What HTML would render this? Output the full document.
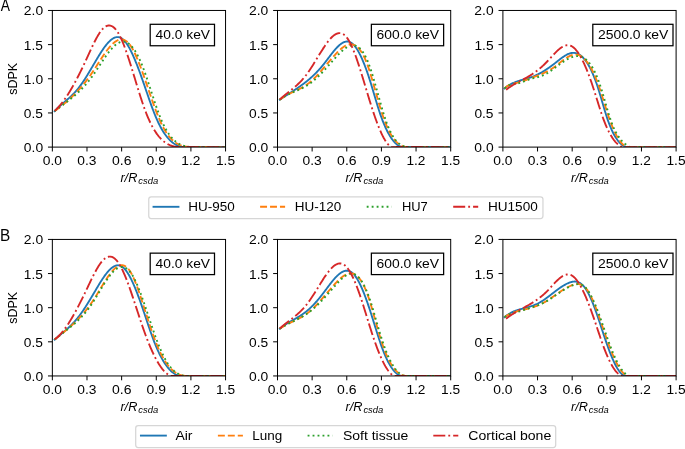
<!DOCTYPE html>
<html><head><meta charset="utf-8"><title>sDPK figure</title><style>
html,body{margin:0;padding:0;background:#fff;overflow:hidden}
svg{display:block;will-change:transform}
</style></head><body>
<svg width="685" height="449" viewBox="0 0 685 449" font-family='"Liberation Sans", sans-serif' fill="#000">
<rect width="100%" height="100%" fill="#fff"/>
<defs>
<clipPath id="cp00"><rect x="52.35" y="10.46" width="173.20" height="136.64"/></clipPath>
<clipPath id="cp01"><rect x="277.50" y="10.46" width="173.20" height="136.64"/></clipPath>
<clipPath id="cp02"><rect x="502.90" y="10.46" width="173.20" height="136.64"/></clipPath>
<clipPath id="cp10"><rect x="52.35" y="239.43" width="173.20" height="136.52"/></clipPath>
<clipPath id="cp11"><rect x="277.50" y="239.43" width="173.20" height="136.52"/></clipPath>
<clipPath id="cp12"><rect x="502.90" y="239.43" width="173.20" height="136.52"/></clipPath>
</defs>
<g clip-path="url(#cp00)" fill="none" stroke-width="1.875" stroke-linejoin="round">
<path d="M54.66,111.09 L55.21,110.51 L55.76,109.94 L56.31,109.38 L56.86,108.83 L57.41,108.29 L57.96,107.76 L58.51,107.24 L59.07,106.73 L59.62,106.23 L60.17,105.73 L60.72,105.24 L61.27,104.76 L61.82,104.28 L62.37,103.80 L62.92,103.33 L63.47,102.85 L64.02,102.39 L64.57,101.92 L65.12,101.45 L65.67,100.98 L66.23,100.51 L66.78,100.04 L67.33,99.56 L67.88,99.08 L68.43,98.60 L68.98,98.11 L69.53,97.62 L70.08,97.12 L70.63,96.61 L71.18,96.10 L71.73,95.57 L72.28,95.04 L72.83,94.50 L73.39,93.94 L73.94,93.38 L74.49,92.80 L75.04,92.21 L75.59,91.60 L76.14,90.98 L76.69,90.35 L77.24,89.70 L77.79,89.03 L78.34,88.34 L78.89,87.64 L79.44,86.92 L79.99,86.18 L80.55,85.43 L81.10,84.66 L81.65,83.88 L82.20,83.08 L82.75,82.28 L83.30,81.45 L83.85,80.62 L84.40,79.77 L84.95,78.92 L85.50,78.05 L86.05,77.18 L86.60,76.29 L87.15,75.40 L87.71,74.50 L88.26,73.60 L88.81,72.68 L89.36,71.77 L89.91,70.84 L90.46,69.92 L91.01,68.98 L91.56,68.05 L92.11,67.12 L92.66,66.18 L93.21,65.24 L93.76,64.30 L94.31,63.36 L94.86,62.42 L95.42,61.49 L95.97,60.56 L96.52,59.63 L97.07,58.70 L97.62,57.78 L98.17,56.87 L98.72,55.96 L99.27,55.07 L99.82,54.18 L100.37,53.30 L100.92,52.44 L101.47,51.59 L102.02,50.75 L102.58,49.93 L103.13,49.12 L103.68,48.33 L104.23,47.56 L104.78,46.80 L105.33,46.07 L105.88,45.36 L106.43,44.67 L106.98,44.00 L107.53,43.36 L108.08,42.74 L108.63,42.15 L109.18,41.59 L109.74,41.05 L110.29,40.54 L110.84,40.07 L111.39,39.62 L111.94,39.21 L112.49,38.83 L113.04,38.48 L113.59,38.17 L114.14,37.90 L114.69,37.66 L115.24,37.47 L115.79,37.31 L116.34,37.19 L116.90,37.11 L117.45,37.08 L118.00,37.09 L118.55,37.15 L119.10,37.25 L119.65,37.39 L120.20,37.59 L120.75,37.83 L121.30,38.13 L121.85,38.47 L122.40,38.87 L122.95,39.32 L123.50,39.82 L124.06,40.37 L124.61,40.97 L125.16,41.62 L125.71,42.31 L126.26,43.05 L126.81,43.84 L127.36,44.67 L127.91,45.54 L128.46,46.45 L129.01,47.40 L129.56,48.40 L130.11,49.42 L130.66,50.49 L131.22,51.59 L131.77,52.72 L132.32,53.89 L132.87,55.09 L133.42,56.32 L133.97,57.58 L134.52,58.87 L135.07,60.18 L135.62,61.52 L136.17,62.88 L136.72,64.27 L137.27,65.68 L137.82,67.11 L138.38,68.57 L138.93,70.04 L139.48,71.52 L140.03,73.03 L140.58,74.55 L141.13,76.08 L141.68,77.63 L142.23,79.19 L142.78,80.76 L143.33,82.34 L143.88,83.92 L144.43,85.52 L144.98,87.12 L145.53,88.72 L146.09,90.33 L146.64,91.93 L147.19,93.54 L147.74,95.14 L148.29,96.73 L148.84,98.32 L149.39,99.90 L149.94,101.47 L150.49,103.02 L151.04,104.56 L151.59,106.08 L152.14,107.59 L152.69,109.07 L153.25,110.53 L153.80,111.97 L154.35,113.37 L154.90,114.75 L155.45,116.10 L156.00,117.42 L156.55,118.70 L157.10,119.95 L157.65,121.17 L158.20,122.35 L158.75,123.49 L159.30,124.61 L159.85,125.69 L160.41,126.74 L160.96,127.75 L161.51,128.74 L162.06,129.69 L162.61,130.62 L163.16,131.51 L163.71,132.38 L164.26,133.21 L164.81,134.02 L165.36,134.79 L165.91,135.54 L166.46,136.26 L167.01,136.96 L167.57,137.62 L168.12,138.26 L168.67,138.88 L169.22,139.46 L169.77,140.03 L170.32,140.56 L170.87,141.07 L171.42,141.56 L171.97,142.03 L172.52,142.47 L173.07,142.88 L173.62,143.28 L174.17,143.65 L174.73,144.00 L175.28,144.33 L175.83,144.64 L176.38,144.92 L176.93,145.19 L177.48,145.44 L178.03,145.66 L178.58,145.87 L179.13,146.06 L179.68,146.23 L180.23,146.38 L180.78,146.52 L181.33,146.63 L181.89,146.74 L182.44,146.82 L182.99,146.89 L183.54,146.94 L184.09,146.98 L184.64,147.00 L185.19,147.01 L185.74,147.00 L186.29,146.99 L225.55,147.10" stroke="#1f77b4"  stroke-linecap="square"/>
<path d="M54.66,111.07 L55.23,110.66 L55.80,110.25 L56.37,109.84 L56.94,109.42 L57.51,109.00 L58.08,108.57 L58.65,108.15 L59.22,107.71 L59.79,107.28 L60.36,106.83 L60.93,106.39 L61.50,105.94 L62.07,105.49 L62.64,105.03 L63.21,104.57 L63.78,104.10 L64.35,103.63 L64.92,103.15 L65.49,102.67 L66.06,102.18 L66.63,101.69 L67.20,101.19 L67.77,100.69 L68.34,100.18 L68.91,99.66 L69.48,99.14 L70.05,98.62 L70.62,98.09 L71.19,97.55 L71.76,97.00 L72.33,96.45 L72.90,95.90 L73.47,95.33 L74.04,94.76 L74.61,94.19 L75.18,93.61 L75.75,93.02 L76.32,92.42 L76.89,91.81 L77.46,91.20 L78.03,90.59 L78.60,89.96 L79.17,89.33 L79.74,88.69 L80.31,88.04 L80.88,87.38 L81.45,86.72 L82.02,86.04 L82.59,85.36 L83.16,84.68 L83.73,83.98 L84.30,83.27 L84.87,82.56 L85.44,81.84 L86.01,81.11 L86.58,80.37 L87.15,79.62 L87.72,78.86 L88.29,78.09 L88.86,77.32 L89.43,76.53 L90.00,75.74 L90.57,74.93 L91.14,74.12 L91.71,73.29 L92.29,72.46 L92.86,71.61 L93.43,70.76 L94.00,69.90 L94.57,69.03 L95.14,68.16 L95.71,67.28 L96.28,66.39 L96.85,65.51 L97.42,64.62 L97.99,63.73 L98.56,62.84 L99.13,61.96 L99.70,61.07 L100.27,60.19 L100.84,59.31 L101.41,58.44 L101.98,57.57 L102.55,56.71 L103.12,55.87 L103.69,55.03 L104.26,54.20 L104.83,53.38 L105.40,52.57 L105.97,51.78 L106.54,51.01 L107.11,50.25 L107.68,49.50 L108.25,48.78 L108.82,48.07 L109.39,47.38 L109.96,46.72 L110.53,46.08 L111.10,45.46 L111.67,44.86 L112.24,44.29 L112.81,43.75 L113.38,43.23 L113.95,42.74 L114.52,42.28 L115.09,41.85 L115.66,41.46 L116.23,41.09 L116.80,40.76 L117.37,40.47 L117.94,40.21 L118.51,39.98 L119.08,39.80 L119.65,39.65 L120.22,39.54 L120.79,39.48 L121.36,39.45 L121.93,39.47 L122.50,39.54 L123.07,39.64 L123.64,39.80 L124.21,40.00 L124.78,40.25 L125.35,40.55 L125.92,40.90 L126.49,41.30 L127.06,41.75 L127.63,42.26 L128.20,42.82 L128.77,43.44 L129.34,44.11 L129.91,44.85 L130.48,45.63 L131.05,46.48 L131.62,47.37 L132.19,48.32 L132.76,49.32 L133.33,50.37 L133.90,51.46 L134.47,52.60 L135.04,53.78 L135.61,55.00 L136.18,56.26 L136.75,57.56 L137.32,58.89 L137.89,60.26 L138.46,61.66 L139.03,63.09 L139.60,64.55 L140.17,66.03 L140.74,67.54 L141.31,69.08 L141.88,70.63 L142.45,72.21 L143.02,73.80 L143.59,75.41 L144.16,77.03 L144.73,78.66 L145.30,80.31 L145.87,81.97 L146.44,83.63 L147.01,85.29 L147.58,86.97 L148.15,88.64 L148.72,90.31 L149.29,91.98 L149.86,93.65 L150.43,95.31 L151.00,96.96 L151.57,98.61 L152.14,100.25 L152.71,101.87 L153.28,103.48 L153.85,105.07 L154.42,106.64 L154.99,108.20 L155.56,109.73 L156.13,111.24 L156.70,112.73 L157.27,114.19 L157.84,115.62 L158.42,117.02 L158.99,118.39 L159.56,119.72 L160.13,121.02 L160.70,122.28 L161.27,123.50 L161.84,124.68 L162.41,125.82 L162.98,126.93 L163.55,127.99 L164.12,129.01 L164.69,130.00 L165.26,130.95 L165.83,131.86 L166.40,132.74 L166.97,133.59 L167.54,134.40 L168.11,135.17 L168.68,135.92 L169.25,136.63 L169.82,137.31 L170.39,137.96 L170.96,138.58 L171.53,139.17 L172.10,139.74 L172.67,140.27 L173.24,140.78 L173.81,141.26 L174.38,141.72 L174.95,142.15 L175.52,142.56 L176.09,142.95 L176.66,143.31 L177.23,143.65 L177.80,143.96 L178.37,144.26 L178.94,144.54 L179.51,144.80 L180.08,145.04 L180.65,145.26 L181.22,145.47 L181.79,145.65 L182.36,145.83 L182.93,145.98 L183.50,146.13 L184.07,146.26 L184.64,146.37 L185.21,146.48 L185.78,146.57 L186.35,146.65 L186.92,146.73 L187.49,146.79 L188.06,146.84 L188.63,146.89 L189.20,146.93 L189.77,146.96 L190.34,146.98 L190.91,147.00 L225.55,147.10" stroke="#ff7f0e" stroke-dasharray="6.938 3.000" stroke-linecap="butt"/>
<path d="M54.66,111.08 L55.23,110.63 L55.81,110.18 L56.38,109.73 L56.96,109.28 L57.53,108.84 L58.11,108.40 L58.68,107.96 L59.26,107.53 L59.83,107.09 L60.41,106.66 L60.98,106.22 L61.56,105.79 L62.13,105.36 L62.71,104.93 L63.28,104.50 L63.86,104.07 L64.43,103.64 L65.01,103.20 L65.58,102.77 L66.16,102.33 L66.73,101.90 L67.31,101.46 L67.88,101.01 L68.46,100.57 L69.03,100.12 L69.61,99.67 L70.18,99.22 L70.76,98.76 L71.33,98.30 L71.91,97.83 L72.48,97.36 L73.06,96.89 L73.63,96.41 L74.21,95.92 L74.78,95.43 L75.36,94.93 L75.93,94.43 L76.51,93.92 L77.08,93.40 L77.66,92.88 L78.23,92.35 L78.81,91.81 L79.38,91.26 L79.96,90.71 L80.53,90.15 L81.11,89.57 L81.68,88.99 L82.26,88.40 L82.83,87.80 L83.41,87.19 L83.98,86.57 L84.56,85.94 L85.13,85.30 L85.70,84.65 L86.28,83.99 L86.85,83.32 L87.43,82.63 L88.00,81.93 L88.58,81.22 L89.15,80.50 L89.73,79.76 L90.30,79.01 L90.88,78.25 L91.45,77.48 L92.03,76.69 L92.60,75.88 L93.18,75.07 L93.75,74.24 L94.33,73.41 L94.90,72.56 L95.48,71.71 L96.05,70.85 L96.63,69.98 L97.20,69.11 L97.78,68.24 L98.35,67.36 L98.93,66.48 L99.50,65.61 L100.08,64.73 L100.65,63.85 L101.23,62.97 L101.80,62.10 L102.38,61.23 L102.95,60.37 L103.53,59.51 L104.10,58.67 L104.68,57.83 L105.25,56.99 L105.83,56.17 L106.40,55.37 L106.98,54.57 L107.55,53.79 L108.13,53.02 L108.70,52.27 L109.28,51.53 L109.85,50.81 L110.43,50.12 L111.00,49.44 L111.58,48.78 L112.15,48.14 L112.73,47.53 L113.30,46.94 L113.88,46.37 L114.45,45.83 L115.03,45.32 L115.60,44.84 L116.18,44.38 L116.75,43.96 L117.33,43.56 L117.90,43.20 L118.48,42.87 L119.05,42.57 L119.63,42.31 L120.20,42.09 L120.77,41.90 L121.35,41.75 L121.92,41.65 L122.50,41.58 L123.07,41.55 L123.65,41.56 L124.22,41.62 L124.80,41.72 L125.37,41.87 L125.95,42.06 L126.52,42.29 L127.10,42.57 L127.67,42.89 L128.25,43.26 L128.82,43.67 L129.40,44.13 L129.97,44.62 L130.55,45.17 L131.12,45.75 L131.70,46.38 L132.27,47.05 L132.85,47.77 L133.42,48.53 L134.00,49.33 L134.57,50.18 L135.15,51.07 L135.72,52.00 L136.30,52.97 L136.87,53.99 L137.45,55.05 L138.02,56.16 L138.60,57.31 L139.17,58.50 L139.75,59.73 L140.32,61.01 L140.90,62.32 L141.47,63.68 L142.05,65.09 L142.62,66.53 L143.20,68.02 L143.77,69.54 L144.35,71.10 L144.92,72.69 L145.50,74.31 L146.07,75.95 L146.65,77.62 L147.22,79.31 L147.80,81.02 L148.37,82.75 L148.95,84.48 L149.52,86.23 L150.10,87.99 L150.67,89.76 L151.25,91.52 L151.82,93.29 L152.40,95.05 L152.97,96.81 L153.55,98.56 L154.12,100.29 L154.70,102.02 L155.27,103.72 L155.84,105.41 L156.42,107.07 L156.99,108.71 L157.57,110.33 L158.14,111.91 L158.72,113.45 L159.29,114.96 L159.87,116.44 L160.44,117.87 L161.02,119.25 L161.59,120.59 L162.17,121.89 L162.74,123.14 L163.32,124.36 L163.89,125.52 L164.47,126.65 L165.04,127.74 L165.62,128.79 L166.19,129.80 L166.77,130.77 L167.34,131.70 L167.92,132.60 L168.49,133.46 L169.07,134.29 L169.64,135.08 L170.22,135.84 L170.79,136.56 L171.37,137.26 L171.94,137.92 L172.52,138.55 L173.09,139.15 L173.67,139.72 L174.24,140.27 L174.82,140.78 L175.39,141.27 L175.97,141.73 L176.54,142.17 L177.12,142.58 L177.69,142.97 L178.27,143.34 L178.84,143.68 L179.42,144.00 L179.99,144.30 L180.57,144.58 L181.14,144.84 L181.72,145.08 L182.29,145.30 L182.87,145.50 L183.44,145.69 L184.02,145.87 L184.59,146.02 L185.17,146.17 L185.74,146.30 L186.32,146.41 L186.89,146.52 L187.47,146.61 L188.04,146.69 L188.62,146.77 L189.19,146.83 L189.76,146.89 L190.34,146.93 L190.91,146.97 L191.49,147.01 L192.06,147.04 L225.55,147.10" stroke="#2ca02c" stroke-dasharray="1.875 3.094" stroke-linecap="butt"/>
<path d="M54.66,110.88 L55.18,110.42 L55.69,109.94 L56.21,109.45 L56.73,108.93 L57.24,108.41 L57.76,107.87 L58.28,107.31 L58.79,106.74 L59.31,106.16 L59.83,105.56 L60.35,104.95 L60.86,104.32 L61.38,103.68 L61.90,103.02 L62.41,102.35 L62.93,101.67 L63.45,100.97 L63.96,100.27 L64.48,99.54 L65.00,98.81 L65.52,98.06 L66.03,97.30 L66.55,96.53 L67.07,95.75 L67.58,94.95 L68.10,94.14 L68.62,93.32 L69.13,92.49 L69.65,91.65 L70.17,90.80 L70.68,89.93 L71.20,89.06 L71.72,88.17 L72.24,87.28 L72.75,86.37 L73.27,85.45 L73.79,84.53 L74.30,83.59 L74.82,82.64 L75.34,81.69 L75.85,80.72 L76.37,79.75 L76.89,78.76 L77.40,77.77 L77.92,76.77 L78.44,75.76 L78.96,74.74 L79.47,73.72 L79.99,72.68 L80.51,71.64 L81.02,70.59 L81.54,69.53 L82.06,68.47 L82.57,67.40 L83.09,66.32 L83.61,65.23 L84.13,64.14 L84.64,63.04 L85.16,61.93 L85.68,60.82 L86.19,59.70 L86.71,58.58 L87.23,57.45 L87.74,56.32 L88.26,55.18 L88.78,54.05 L89.29,52.92 L89.81,51.79 L90.33,50.66 L90.85,49.54 L91.36,48.43 L91.88,47.32 L92.40,46.23 L92.91,45.15 L93.43,44.08 L93.95,43.03 L94.46,41.99 L94.98,40.97 L95.50,39.97 L96.01,38.99 L96.53,38.04 L97.05,37.10 L97.57,36.20 L98.08,35.32 L98.60,34.47 L99.12,33.64 L99.63,32.86 L100.15,32.10 L100.67,31.38 L101.18,30.69 L101.70,30.04 L102.22,29.43 L102.74,28.87 L103.25,28.34 L103.77,27.86 L104.29,27.42 L104.80,27.02 L105.32,26.67 L105.84,26.37 L106.35,26.11 L106.87,25.89 L107.39,25.72 L107.90,25.60 L108.42,25.52 L108.94,25.48 L109.46,25.50 L109.97,25.56 L110.49,25.66 L111.01,25.82 L111.52,26.02 L112.04,26.26 L112.56,26.56 L113.07,26.90 L113.59,27.29 L114.11,27.73 L114.62,28.22 L115.14,28.76 L115.66,29.35 L116.18,29.98 L116.69,30.67 L117.21,31.40 L117.73,32.18 L118.24,33.02 L118.76,33.90 L119.28,34.84 L119.79,35.82 L120.31,36.85 L120.83,37.93 L121.34,39.05 L121.86,40.21 L122.38,41.42 L122.90,42.66 L123.41,43.94 L123.93,45.25 L124.45,46.60 L124.96,47.99 L125.48,49.40 L126.00,50.84 L126.51,52.31 L127.03,53.81 L127.55,55.33 L128.07,56.88 L128.58,58.45 L129.10,60.03 L129.62,61.64 L130.13,63.26 L130.65,64.89 L131.17,66.54 L131.68,68.21 L132.20,69.88 L132.72,71.56 L133.23,73.25 L133.75,74.94 L134.27,76.64 L134.79,78.33 L135.30,80.03 L135.82,81.73 L136.34,83.43 L136.85,85.12 L137.37,86.81 L137.89,88.48 L138.40,90.15 L138.92,91.81 L139.44,93.46 L139.95,95.09 L140.47,96.71 L140.99,98.31 L141.51,99.89 L142.02,101.45 L142.54,102.99 L143.06,104.51 L143.57,106.00 L144.09,107.47 L144.61,108.90 L145.12,110.31 L145.64,111.68 L146.16,113.03 L146.68,114.34 L147.19,115.61 L147.71,116.85 L148.23,118.06 L148.74,119.24 L149.26,120.39 L149.78,121.50 L150.29,122.59 L150.81,123.64 L151.33,124.67 L151.84,125.67 L152.36,126.63 L152.88,127.57 L153.40,128.48 L153.91,129.36 L154.43,130.22 L154.95,131.04 L155.46,131.84 L155.98,132.62 L156.50,133.37 L157.01,134.09 L157.53,134.79 L158.05,135.46 L158.56,136.11 L159.08,136.74 L159.60,137.34 L160.12,137.92 L160.63,138.48 L161.15,139.02 L161.67,139.53 L162.18,140.03 L162.70,140.50 L163.22,140.95 L163.73,141.38 L164.25,141.79 L164.77,142.19 L165.29,142.56 L165.80,142.92 L166.32,143.26 L166.84,143.58 L167.35,143.88 L167.87,144.17 L168.39,144.44 L168.90,144.69 L169.42,144.93 L169.94,145.16 L170.45,145.37 L170.97,145.56 L171.49,145.74 L172.01,145.91 L172.52,146.07 L173.04,146.21 L173.56,146.34 L174.07,146.46 L174.59,146.57 L175.11,146.67 L175.62,146.75 L176.14,146.83 L176.66,146.90 L177.17,146.95 L177.69,147.00 L178.21,147.04 L225.55,147.10" stroke="#d62728" stroke-dasharray="12.000 3.000 1.875 3.000" stroke-linecap="butt"/>
</g>
<rect x="52.35" y="10.46" width="173.20" height="136.64" fill="none" stroke="#000" stroke-width="1.000" stroke-linecap="square"/>
<path d="M52.35,147.10 v4.375 M86.99,147.10 v4.375 M121.63,147.10 v4.375 M156.27,147.10 v4.375 M190.91,147.10 v4.375 M225.55,147.10 v4.375 M52.35,147.10 h-4.375 M52.35,112.94 h-4.375 M52.35,78.78 h-4.375 M52.35,44.62 h-4.375 M52.35,10.46 h-4.375" stroke="#000" stroke-width="1.000"/>
<rect x="150.20" y="24.30" width="64.30" height="21.45" fill="#fff" stroke="#000" stroke-width="1.250"/>
<g clip-path="url(#cp01)" fill="none" stroke-width="1.875" stroke-linejoin="round">
<path d="M279.81,99.67 L280.33,99.32 L280.85,98.97 L281.37,98.62 L281.90,98.27 L282.42,97.93 L282.94,97.58 L283.46,97.24 L283.98,96.90 L284.51,96.56 L285.03,96.22 L285.55,95.88 L286.07,95.54 L286.59,95.21 L287.11,94.87 L287.64,94.54 L288.16,94.20 L288.68,93.87 L289.20,93.53 L289.72,93.20 L290.24,92.86 L290.77,92.52 L291.29,92.19 L291.81,91.85 L292.33,91.51 L292.85,91.17 L293.38,90.83 L293.90,90.49 L294.42,90.15 L294.94,89.80 L295.46,89.46 L295.98,89.11 L296.51,88.76 L297.03,88.40 L297.55,88.05 L298.07,87.69 L298.59,87.33 L299.11,86.97 L299.64,86.60 L300.16,86.24 L300.68,85.86 L301.20,85.49 L301.72,85.11 L302.25,84.73 L302.77,84.34 L303.29,83.95 L303.81,83.56 L304.33,83.16 L304.85,82.76 L305.38,82.36 L305.90,81.95 L306.42,81.53 L306.94,81.11 L307.46,80.69 L307.99,80.26 L308.51,79.82 L309.03,79.38 L309.55,78.93 L310.07,78.48 L310.59,78.02 L311.12,77.56 L311.64,77.09 L312.16,76.61 L312.68,76.13 L313.20,75.64 L313.72,75.15 L314.25,74.65 L314.77,74.14 L315.29,73.62 L315.81,73.10 L316.33,72.57 L316.86,72.03 L317.38,71.48 L317.90,70.93 L318.42,70.37 L318.94,69.80 L319.46,69.22 L319.99,68.63 L320.51,68.04 L321.03,67.44 L321.55,66.82 L322.07,66.20 L322.59,65.57 L323.12,64.93 L323.64,64.29 L324.16,63.63 L324.68,62.96 L325.20,62.29 L325.73,61.61 L326.25,60.93 L326.77,60.24 L327.29,59.55 L327.81,58.85 L328.33,58.16 L328.86,57.47 L329.38,56.77 L329.90,56.08 L330.42,55.40 L330.94,54.71 L331.46,54.04 L331.99,53.37 L332.51,52.70 L333.03,52.05 L333.55,51.40 L334.07,50.77 L334.60,50.15 L335.12,49.54 L335.64,48.94 L336.16,48.36 L336.68,47.80 L337.20,47.25 L337.73,46.72 L338.25,46.21 L338.77,45.72 L339.29,45.26 L339.81,44.81 L340.34,44.39 L340.86,43.99 L341.38,43.62 L341.90,43.28 L342.42,42.96 L342.94,42.67 L343.47,42.41 L343.99,42.18 L344.51,41.99 L345.03,41.83 L345.55,41.70 L346.07,41.60 L346.60,41.55 L347.12,41.53 L347.64,41.54 L348.16,41.60 L348.68,41.70 L349.21,41.84 L349.73,42.02 L350.25,42.25 L350.77,42.52 L351.29,42.83 L351.81,43.20 L352.34,43.61 L352.86,44.06 L353.38,44.56 L353.90,45.10 L354.42,45.69 L354.94,46.32 L355.47,46.99 L355.99,47.71 L356.51,48.46 L357.03,49.26 L357.55,50.10 L358.08,50.97 L358.60,51.89 L359.12,52.85 L359.64,53.84 L360.16,54.87 L360.68,55.94 L361.21,57.04 L361.73,58.18 L362.25,59.36 L362.77,60.57 L363.29,61.81 L363.81,63.09 L364.34,64.40 L364.86,65.74 L365.38,67.12 L365.90,68.53 L366.42,69.96 L366.95,71.43 L367.47,72.93 L367.99,74.46 L368.51,76.01 L369.03,77.60 L369.55,79.21 L370.08,80.85 L370.60,82.51 L371.12,84.20 L371.64,85.92 L372.16,87.65 L372.69,89.40 L373.21,91.17 L373.73,92.94 L374.25,94.72 L374.77,96.50 L375.29,98.27 L375.82,100.03 L376.34,101.78 L376.86,103.52 L377.38,105.23 L377.90,106.92 L378.42,108.58 L378.95,110.21 L379.47,111.79 L379.99,113.34 L380.51,114.86 L381.03,116.34 L381.56,117.78 L382.08,119.18 L382.60,120.55 L383.12,121.88 L383.64,123.17 L384.16,124.43 L384.69,125.65 L385.21,126.84 L385.73,127.99 L386.25,129.11 L386.77,130.19 L387.29,131.23 L387.82,132.25 L388.34,133.22 L388.86,134.16 L389.38,135.07 L389.90,135.94 L390.43,136.78 L390.95,137.59 L391.47,138.36 L391.99,139.10 L392.51,139.80 L393.03,140.47 L393.56,141.11 L394.08,141.71 L394.60,142.28 L395.12,142.82 L395.64,143.33 L396.16,143.80 L396.69,144.24 L397.21,144.65 L397.73,145.03 L398.25,145.37 L398.77,145.69 L399.30,145.97 L399.82,146.22 L400.34,146.44 L400.86,146.63 L401.38,146.79 L401.90,146.91 L402.43,147.01 L402.95,147.08 L403.47,147.10 L403.99,147.10 L404.51,147.09 L450.70,147.10" stroke="#1f77b4"  stroke-linecap="square"/>
<path d="M279.81,99.69 L280.34,99.28 L280.87,98.89 L281.40,98.51 L281.94,98.13 L282.47,97.77 L283.00,97.42 L283.53,97.08 L284.06,96.74 L284.59,96.42 L285.12,96.10 L285.66,95.79 L286.19,95.48 L286.72,95.19 L287.25,94.90 L287.78,94.61 L288.31,94.33 L288.84,94.06 L289.38,93.79 L289.91,93.52 L290.44,93.26 L290.97,93.00 L291.50,92.74 L292.03,92.49 L292.56,92.24 L293.10,91.99 L293.63,91.74 L294.16,91.49 L294.69,91.24 L295.22,90.99 L295.75,90.74 L296.28,90.49 L296.82,90.23 L297.35,89.98 L297.88,89.72 L298.41,89.46 L298.94,89.20 L299.47,88.93 L300.00,88.66 L300.54,88.38 L301.07,88.10 L301.60,87.81 L302.13,87.52 L302.66,87.22 L303.19,86.91 L303.72,86.60 L304.26,86.28 L304.79,85.95 L305.32,85.61 L305.85,85.26 L306.38,84.90 L306.91,84.53 L307.44,84.16 L307.98,83.77 L308.51,83.37 L309.04,82.96 L309.57,82.53 L310.10,82.10 L310.63,81.65 L311.16,81.19 L311.70,80.72 L312.23,80.24 L312.76,79.75 L313.29,79.25 L313.82,78.74 L314.35,78.22 L314.88,77.69 L315.42,77.15 L315.95,76.60 L316.48,76.05 L317.01,75.49 L317.54,74.92 L318.07,74.35 L318.60,73.77 L319.14,73.18 L319.67,72.59 L320.20,71.99 L320.73,71.39 L321.26,70.78 L321.79,70.17 L322.32,69.56 L322.86,68.94 L323.39,68.32 L323.92,67.70 L324.45,67.08 L324.98,66.45 L325.51,65.82 L326.04,65.20 L326.58,64.57 L327.11,63.94 L327.64,63.31 L328.17,62.68 L328.70,62.06 L329.23,61.43 L329.76,60.81 L330.30,60.19 L330.83,59.57 L331.36,58.95 L331.89,58.34 L332.42,57.73 L332.95,57.13 L333.48,56.53 L334.02,55.93 L334.55,55.34 L335.08,54.76 L335.61,54.18 L336.14,53.61 L336.67,53.05 L337.20,52.49 L337.74,51.95 L338.27,51.42 L338.80,50.90 L339.33,50.39 L339.86,49.90 L340.39,49.42 L340.92,48.96 L341.46,48.51 L341.99,48.09 L342.52,47.67 L343.05,47.28 L343.58,46.91 L344.11,46.56 L344.64,46.23 L345.18,45.92 L345.71,45.64 L346.24,45.38 L346.77,45.15 L347.30,44.94 L347.83,44.76 L348.36,44.61 L348.90,44.48 L349.43,44.39 L349.96,44.32 L350.49,44.29 L351.02,44.29 L351.55,44.32 L352.08,44.38 L352.62,44.49 L353.15,44.62 L353.68,44.80 L354.21,45.01 L354.74,45.25 L355.27,45.54 L355.80,45.87 L356.34,46.24 L356.87,46.65 L357.40,47.11 L357.93,47.60 L358.46,48.15 L358.99,48.73 L359.52,49.37 L360.06,50.05 L360.59,50.78 L361.12,51.55 L361.65,52.38 L362.18,53.26 L362.71,54.19 L363.24,55.17 L363.78,56.21 L364.31,57.30 L364.84,58.44 L365.37,59.64 L365.90,60.90 L366.43,62.21 L366.96,63.59 L367.50,65.02 L368.03,66.51 L368.56,68.06 L369.09,69.66 L369.62,71.31 L370.15,73.00 L370.68,74.72 L371.22,76.48 L371.75,78.28 L372.28,80.09 L372.81,81.93 L373.34,83.78 L373.87,85.64 L374.41,87.52 L374.94,89.39 L375.47,91.26 L376.00,93.14 L376.53,95.00 L377.06,96.86 L377.59,98.71 L378.13,100.55 L378.66,102.37 L379.19,104.17 L379.72,105.95 L380.25,107.70 L380.78,109.43 L381.31,111.13 L381.85,112.80 L382.38,114.43 L382.91,116.02 L383.44,117.58 L383.97,119.09 L384.50,120.55 L385.03,121.97 L385.57,123.33 L386.10,124.65 L386.63,125.93 L387.16,127.15 L387.69,128.33 L388.22,129.46 L388.75,130.55 L389.29,131.60 L389.82,132.61 L390.35,133.57 L390.88,134.49 L391.41,135.37 L391.94,136.21 L392.47,137.02 L393.01,137.78 L393.54,138.51 L394.07,139.21 L394.60,139.86 L395.13,140.49 L395.66,141.07 L396.19,141.63 L396.73,142.16 L397.26,142.65 L397.79,143.11 L398.32,143.54 L398.85,143.95 L399.38,144.32 L399.91,144.67 L400.45,144.99 L400.98,145.29 L401.51,145.56 L402.04,145.81 L402.57,146.03 L403.10,146.24 L403.63,146.42 L404.17,146.58 L404.70,146.72 L405.23,146.84 L405.76,146.94 L406.29,147.02 L406.82,147.09 L450.70,147.10" stroke="#ff7f0e" stroke-dasharray="6.938 3.000" stroke-linecap="butt"/>
<path d="M279.81,99.69 L280.35,99.29 L280.88,98.90 L281.42,98.53 L281.95,98.17 L282.49,97.81 L283.03,97.47 L283.56,97.13 L284.10,96.80 L284.64,96.49 L285.17,96.18 L285.71,95.87 L286.24,95.58 L286.78,95.29 L287.32,95.00 L287.85,94.73 L288.39,94.45 L288.93,94.19 L289.46,93.93 L290.00,93.67 L290.53,93.42 L291.07,93.17 L291.61,92.92 L292.14,92.68 L292.68,92.44 L293.22,92.20 L293.75,91.96 L294.29,91.72 L294.82,91.49 L295.36,91.25 L295.90,91.02 L296.43,90.78 L296.97,90.54 L297.51,90.31 L298.04,90.07 L298.58,89.83 L299.11,89.58 L299.65,89.34 L300.19,89.09 L300.72,88.84 L301.26,88.58 L301.80,88.32 L302.33,88.06 L302.87,87.79 L303.41,87.51 L303.94,87.23 L304.48,86.94 L305.01,86.65 L305.55,86.34 L306.09,86.03 L306.62,85.72 L307.16,85.39 L307.70,85.06 L308.23,84.72 L308.77,84.36 L309.30,84.00 L309.84,83.63 L310.38,83.25 L310.91,82.85 L311.45,82.45 L311.99,82.03 L312.52,81.61 L313.06,81.17 L313.59,80.73 L314.13,80.27 L314.67,79.80 L315.20,79.33 L315.74,78.85 L316.28,78.36 L316.81,77.86 L317.35,77.35 L317.88,76.84 L318.42,76.32 L318.96,75.79 L319.49,75.25 L320.03,74.71 L320.57,74.16 L321.10,73.61 L321.64,73.05 L322.17,72.49 L322.71,71.92 L323.25,71.35 L323.78,70.77 L324.32,70.19 L324.86,69.61 L325.39,69.02 L325.93,68.43 L326.46,67.84 L327.00,67.24 L327.54,66.64 L328.07,66.04 L328.61,65.44 L329.15,64.84 L329.68,64.24 L330.22,63.63 L330.75,63.03 L331.29,62.43 L331.83,61.82 L332.36,61.22 L332.90,60.62 L333.44,60.02 L333.97,59.42 L334.51,58.82 L335.04,58.23 L335.58,57.64 L336.12,57.05 L336.65,56.46 L337.19,55.88 L337.73,55.30 L338.26,54.73 L338.80,54.17 L339.34,53.62 L339.87,53.08 L340.41,52.54 L340.94,52.02 L341.48,51.51 L342.02,51.02 L342.55,50.53 L343.09,50.07 L343.63,49.62 L344.16,49.18 L344.70,48.77 L345.23,48.37 L345.77,47.99 L346.31,47.63 L346.84,47.30 L347.38,46.99 L347.92,46.70 L348.45,46.44 L348.99,46.20 L349.52,45.99 L350.06,45.80 L350.60,45.65 L351.13,45.52 L351.67,45.43 L352.21,45.36 L352.74,45.33 L353.28,45.33 L353.81,45.37 L354.35,45.44 L354.89,45.54 L355.42,45.69 L355.96,45.87 L356.50,46.09 L357.03,46.35 L357.57,46.65 L358.10,46.99 L358.64,47.38 L359.18,47.81 L359.71,48.28 L360.25,48.80 L360.79,49.37 L361.32,49.98 L361.86,50.65 L362.39,51.36 L362.93,52.12 L363.47,52.93 L364.00,53.80 L364.54,54.72 L365.08,55.69 L365.61,56.72 L366.15,57.80 L366.68,58.94 L367.22,60.14 L367.76,61.40 L368.29,62.72 L368.83,64.09 L369.37,65.53 L369.90,67.03 L370.44,68.58 L370.97,70.19 L371.51,71.83 L372.05,73.53 L372.58,75.26 L373.12,77.03 L373.66,78.83 L374.19,80.66 L374.73,82.52 L375.26,84.40 L375.80,86.29 L376.34,88.20 L376.87,90.13 L377.41,92.05 L377.95,93.99 L378.48,95.92 L379.02,97.85 L379.56,99.77 L380.09,101.69 L380.63,103.58 L381.16,105.46 L381.70,107.32 L382.24,109.16 L382.77,110.96 L383.31,112.73 L383.85,114.47 L384.38,116.17 L384.92,117.82 L385.45,119.43 L385.99,120.98 L386.53,122.49 L387.06,123.93 L387.60,125.32 L388.14,126.66 L388.67,127.94 L389.21,129.17 L389.74,130.34 L390.28,131.47 L390.82,132.54 L391.35,133.57 L391.89,134.55 L392.43,135.48 L392.96,136.37 L393.50,137.21 L394.03,138.01 L394.57,138.77 L395.11,139.48 L395.64,140.16 L396.18,140.79 L396.72,141.39 L397.25,141.95 L397.79,142.48 L398.32,142.97 L398.86,143.43 L399.40,143.85 L399.93,144.25 L400.47,144.61 L401.01,144.94 L401.54,145.25 L402.08,145.53 L402.61,145.78 L403.15,146.01 L403.69,146.21 L404.22,146.39 L404.76,146.55 L405.30,146.69 L405.83,146.81 L406.37,146.91 L406.90,146.99 L407.44,147.05 L407.98,147.10 L450.70,147.10" stroke="#2ca02c" stroke-dasharray="1.875 3.094" stroke-linecap="butt"/>
<path d="M279.81,99.47 L280.30,99.02 L280.79,98.58 L281.27,98.15 L281.76,97.72 L282.25,97.29 L282.74,96.88 L283.23,96.46 L283.71,96.05 L284.20,95.65 L284.69,95.25 L285.18,94.85 L285.66,94.45 L286.15,94.05 L286.64,93.66 L287.13,93.27 L287.62,92.88 L288.10,92.49 L288.59,92.10 L289.08,91.71 L289.57,91.32 L290.06,90.93 L290.54,90.54 L291.03,90.15 L291.52,89.75 L292.01,89.35 L292.50,88.95 L292.98,88.55 L293.47,88.14 L293.96,87.73 L294.45,87.31 L294.94,86.89 L295.42,86.46 L295.91,86.03 L296.40,85.59 L296.89,85.15 L297.38,84.70 L297.86,84.24 L298.35,83.77 L298.84,83.30 L299.33,82.82 L299.82,82.33 L300.30,81.83 L300.79,81.32 L301.28,80.80 L301.77,80.27 L302.26,79.74 L302.74,79.19 L303.23,78.62 L303.72,78.05 L304.21,77.47 L304.70,76.87 L305.18,76.26 L305.67,75.63 L306.16,75.00 L306.65,74.34 L307.13,73.68 L307.62,73.00 L308.11,72.32 L308.60,71.62 L309.09,70.91 L309.57,70.19 L310.06,69.46 L310.55,68.72 L311.04,67.98 L311.53,67.22 L312.01,66.46 L312.50,65.70 L312.99,64.92 L313.48,64.14 L313.97,63.36 L314.45,62.57 L314.94,61.78 L315.43,60.99 L315.92,60.19 L316.41,59.40 L316.89,58.60 L317.38,57.80 L317.87,57.00 L318.36,56.20 L318.85,55.40 L319.33,54.60 L319.82,53.81 L320.31,53.02 L320.80,52.23 L321.29,51.45 L321.77,50.67 L322.26,49.90 L322.75,49.13 L323.24,48.37 L323.73,47.63 L324.21,46.89 L324.70,46.16 L325.19,45.44 L325.68,44.73 L326.17,44.04 L326.65,43.36 L327.14,42.69 L327.63,42.04 L328.12,41.40 L328.60,40.79 L329.09,40.19 L329.58,39.60 L330.07,39.04 L330.56,38.50 L331.04,37.98 L331.53,37.48 L332.02,37.00 L332.51,36.55 L333.00,36.12 L333.48,35.71 L333.97,35.33 L334.46,34.98 L334.95,34.66 L335.44,34.36 L335.92,34.10 L336.41,33.86 L336.90,33.66 L337.39,33.48 L337.88,33.34 L338.36,33.23 L338.85,33.16 L339.34,33.12 L339.83,33.12 L340.32,33.16 L340.80,33.23 L341.29,33.34 L341.78,33.49 L342.27,33.68 L342.76,33.91 L343.24,34.18 L343.73,34.49 L344.22,34.85 L344.71,35.26 L345.20,35.70 L345.68,36.20 L346.17,36.74 L346.66,37.32 L347.15,37.96 L347.64,38.64 L348.12,39.38 L348.61,40.16 L349.10,40.99 L349.59,41.87 L350.07,42.79 L350.56,43.75 L351.05,44.76 L351.54,45.80 L352.03,46.89 L352.51,48.01 L353.00,49.17 L353.49,50.36 L353.98,51.59 L354.47,52.85 L354.95,54.14 L355.44,55.45 L355.93,56.80 L356.42,58.18 L356.91,59.58 L357.39,61.00 L357.88,62.45 L358.37,63.92 L358.86,65.40 L359.35,66.91 L359.83,68.43 L360.32,69.97 L360.81,71.53 L361.30,73.10 L361.79,74.68 L362.27,76.27 L362.76,77.87 L363.25,79.47 L363.74,81.09 L364.23,82.71 L364.71,84.33 L365.20,85.96 L365.69,87.58 L366.18,89.21 L366.67,90.83 L367.15,92.45 L367.64,94.07 L368.13,95.68 L368.62,97.29 L369.11,98.88 L369.59,100.47 L370.08,102.04 L370.57,103.60 L371.06,105.15 L371.54,106.69 L372.03,108.20 L372.52,109.71 L373.01,111.19 L373.50,112.66 L373.98,114.11 L374.47,115.53 L374.96,116.94 L375.45,118.33 L375.94,119.70 L376.42,121.04 L376.91,122.36 L377.40,123.65 L377.89,124.92 L378.38,126.17 L378.86,127.39 L379.35,128.58 L379.84,129.74 L380.33,130.87 L380.82,131.98 L381.30,133.05 L381.79,134.10 L382.28,135.11 L382.77,136.08 L383.26,137.03 L383.74,137.94 L384.23,138.81 L384.72,139.65 L385.21,140.45 L385.70,141.22 L386.18,141.95 L386.67,142.63 L387.16,143.28 L387.65,143.89 L388.14,144.45 L388.62,144.98 L389.11,145.46 L389.60,145.89 L390.09,146.28 L390.58,146.63 L391.06,146.93 L391.55,147.10 L392.04,147.10 L392.53,147.10 L393.01,147.10 L393.50,147.10 L393.99,147.10 L394.48,147.10 L394.97,147.10 L395.45,147.10 L395.94,147.10 L396.43,146.97 L450.70,147.10" stroke="#d62728" stroke-dasharray="12.000 3.000 1.875 3.000" stroke-linecap="butt"/>
</g>
<rect x="277.50" y="10.46" width="173.20" height="136.64" fill="none" stroke="#000" stroke-width="1.000" stroke-linecap="square"/>
<path d="M277.50,147.10 v4.375 M312.14,147.10 v4.375 M346.78,147.10 v4.375 M381.42,147.10 v4.375 M416.06,147.10 v4.375 M450.70,147.10 v4.375 M277.50,147.10 h-4.375 M277.50,112.94 h-4.375 M277.50,78.78 h-4.375 M277.50,44.62 h-4.375 M277.50,10.46 h-4.375" stroke="#000" stroke-width="1.000"/>
<rect x="371.38" y="24.30" width="72.25" height="21.45" fill="#fff" stroke="#000" stroke-width="1.250"/>
<g clip-path="url(#cp02)" fill="none" stroke-width="1.875" stroke-linejoin="round">
<path d="M504.63,88.32 L505.14,87.91 L505.65,87.51 L506.16,87.12 L506.67,86.75 L507.18,86.39 L507.69,86.04 L508.20,85.70 L508.71,85.38 L509.22,85.07 L509.73,84.77 L510.24,84.48 L510.75,84.20 L511.26,83.94 L511.77,83.68 L512.28,83.43 L512.79,83.19 L513.30,82.96 L513.81,82.74 L514.32,82.52 L514.83,82.31 L515.34,82.11 L515.85,81.92 L516.36,81.73 L516.86,81.55 L517.37,81.37 L517.88,81.20 L518.39,81.04 L518.90,80.87 L519.41,80.72 L519.92,80.56 L520.43,80.41 L520.94,80.26 L521.45,80.12 L521.96,79.97 L522.47,79.83 L522.98,79.69 L523.49,79.55 L524.00,79.40 L524.51,79.26 L525.02,79.12 L525.53,78.98 L526.04,78.84 L526.55,78.69 L527.06,78.55 L527.57,78.40 L528.08,78.25 L528.59,78.09 L529.10,77.93 L529.61,77.77 L530.12,77.61 L530.63,77.43 L531.14,77.26 L531.65,77.08 L532.16,76.89 L532.67,76.70 L533.17,76.50 L533.68,76.29 L534.19,76.08 L534.70,75.86 L535.21,75.64 L535.72,75.41 L536.23,75.18 L536.74,74.94 L537.25,74.69 L537.76,74.44 L538.27,74.19 L538.78,73.92 L539.29,73.66 L539.80,73.39 L540.31,73.11 L540.82,72.83 L541.33,72.54 L541.84,72.25 L542.35,71.95 L542.86,71.65 L543.37,71.34 L543.88,71.03 L544.39,70.72 L544.90,70.40 L545.41,70.07 L545.92,69.74 L546.43,69.41 L546.94,69.07 L547.45,68.73 L547.96,68.38 L548.47,68.03 L548.98,67.68 L549.49,67.32 L549.99,66.96 L550.50,66.59 L551.01,66.22 L551.52,65.85 L552.03,65.47 L552.54,65.09 L553.05,64.70 L553.56,64.32 L554.07,63.92 L554.58,63.53 L555.09,63.13 L555.60,62.73 L556.11,62.32 L556.62,61.92 L557.13,61.51 L557.64,61.11 L558.15,60.70 L558.66,60.30 L559.17,59.89 L559.68,59.50 L560.19,59.10 L560.70,58.71 L561.21,58.33 L561.72,57.95 L562.23,57.58 L562.74,57.22 L563.25,56.86 L563.76,56.52 L564.27,56.19 L564.78,55.86 L565.29,55.55 L565.80,55.25 L566.31,54.97 L566.81,54.70 L567.32,54.44 L567.83,54.20 L568.34,53.98 L568.85,53.78 L569.36,53.59 L569.87,53.42 L570.38,53.27 L570.89,53.15 L571.40,53.04 L571.91,52.96 L572.42,52.89 L572.93,52.86 L573.44,52.85 L573.95,52.86 L574.46,52.90 L574.97,52.96 L575.48,53.05 L575.99,53.16 L576.50,53.30 L577.01,53.47 L577.52,53.67 L578.03,53.89 L578.54,54.14 L579.05,54.42 L579.56,54.73 L580.07,55.07 L580.58,55.43 L581.09,55.83 L581.60,56.25 L582.11,56.71 L582.62,57.19 L583.13,57.71 L583.63,58.26 L584.14,58.83 L584.65,59.45 L585.16,60.09 L585.67,60.76 L586.18,61.47 L586.69,62.21 L587.20,62.99 L587.71,63.80 L588.22,64.64 L588.73,65.52 L589.24,66.43 L589.75,67.38 L590.26,68.36 L590.77,69.38 L591.28,70.43 L591.79,71.52 L592.30,72.65 L592.81,73.82 L593.32,75.02 L593.83,76.26 L594.34,77.54 L594.85,78.85 L595.36,80.21 L595.87,81.61 L596.38,83.04 L596.89,84.51 L597.40,86.03 L597.91,87.58 L598.42,89.18 L598.93,90.81 L599.44,92.47 L599.95,94.15 L600.45,95.86 L600.96,97.58 L601.47,99.32 L601.98,101.06 L602.49,102.81 L603.00,104.55 L603.51,106.29 L604.02,108.01 L604.53,109.72 L605.04,111.41 L605.55,113.07 L606.06,114.70 L606.57,116.30 L607.08,117.86 L607.59,119.37 L608.10,120.84 L608.61,122.26 L609.12,123.63 L609.63,124.96 L610.14,126.24 L610.65,127.47 L611.16,128.67 L611.67,129.82 L612.18,130.92 L612.69,131.99 L613.20,133.01 L613.71,133.99 L614.22,134.93 L614.73,135.84 L615.24,136.70 L615.75,137.52 L616.26,138.31 L616.77,139.06 L617.27,139.78 L617.78,140.45 L618.29,141.10 L618.80,141.70 L619.31,142.28 L619.82,142.82 L620.33,143.33 L620.84,143.80 L621.35,144.24 L621.86,144.66 L622.37,145.04 L622.88,145.39 L623.39,145.72 L623.90,146.02 L624.41,146.28 L624.92,146.53 L625.43,146.74 L625.94,146.93 L626.45,147.09 L676.10,147.10" stroke="#1f77b4"  stroke-linecap="square"/>
<path d="M504.63,88.34 L505.15,87.83 L505.67,87.36 L506.19,86.93 L506.71,86.53 L507.23,86.17 L507.75,85.84 L508.27,85.54 L508.79,85.26 L509.31,85.01 L509.83,84.78 L510.34,84.58 L510.86,84.39 L511.38,84.22 L511.90,84.06 L512.42,83.91 L512.94,83.78 L513.46,83.65 L513.98,83.53 L514.50,83.42 L515.02,83.30 L515.54,83.19 L516.06,83.07 L516.58,82.95 L517.10,82.83 L517.62,82.70 L518.14,82.56 L518.65,82.42 L519.17,82.28 L519.69,82.13 L520.21,81.98 L520.73,81.82 L521.25,81.66 L521.77,81.49 L522.29,81.33 L522.81,81.15 L523.33,80.98 L523.85,80.80 L524.37,80.62 L524.89,80.44 L525.41,80.25 L525.93,80.06 L526.45,79.87 L526.96,79.68 L527.48,79.49 L528.00,79.29 L528.52,79.10 L529.04,78.90 L529.56,78.70 L530.08,78.50 L530.60,78.30 L531.12,78.10 L531.64,77.90 L532.16,77.70 L532.68,77.49 L533.20,77.29 L533.72,77.09 L534.24,76.89 L534.75,76.69 L535.27,76.49 L535.79,76.29 L536.31,76.09 L536.83,75.89 L537.35,75.69 L537.87,75.49 L538.39,75.29 L538.91,75.09 L539.43,74.88 L539.95,74.67 L540.47,74.46 L540.99,74.25 L541.51,74.04 L542.03,73.82 L542.55,73.60 L543.06,73.37 L543.58,73.14 L544.10,72.91 L544.62,72.67 L545.14,72.43 L545.66,72.18 L546.18,71.93 L546.70,71.67 L547.22,71.40 L547.74,71.13 L548.26,70.85 L548.78,70.57 L549.30,70.28 L549.82,69.98 L550.34,69.67 L550.85,69.35 L551.37,69.03 L551.89,68.70 L552.41,68.36 L552.93,68.01 L553.45,67.65 L553.97,67.28 L554.49,66.90 L555.01,66.52 L555.53,66.12 L556.05,65.73 L556.57,65.32 L557.09,64.92 L557.61,64.51 L558.13,64.10 L558.65,63.68 L559.16,63.27 L559.68,62.85 L560.20,62.44 L560.72,62.03 L561.24,61.62 L561.76,61.21 L562.28,60.81 L562.80,60.41 L563.32,60.02 L563.84,59.63 L564.36,59.26 L564.88,58.89 L565.40,58.53 L565.92,58.18 L566.44,57.84 L566.96,57.51 L567.47,57.20 L567.99,56.90 L568.51,56.61 L569.03,56.34 L569.55,56.09 L570.07,55.85 L570.59,55.63 L571.11,55.42 L571.63,55.24 L572.15,55.08 L572.67,54.94 L573.19,54.81 L573.71,54.72 L574.23,54.64 L574.75,54.59 L575.26,54.57 L575.78,54.57 L576.30,54.60 L576.82,54.65 L577.34,54.74 L577.86,54.85 L578.38,54.99 L578.90,55.17 L579.42,55.37 L579.94,55.60 L580.46,55.87 L580.98,56.16 L581.50,56.49 L582.02,56.85 L582.54,57.23 L583.06,57.65 L583.57,58.10 L584.09,58.59 L584.61,59.10 L585.13,59.65 L585.65,60.23 L586.17,60.84 L586.69,61.48 L587.21,62.16 L587.73,62.86 L588.25,63.61 L588.77,64.38 L589.29,65.19 L589.81,66.03 L590.33,66.90 L590.85,67.81 L591.36,68.75 L591.88,69.73 L592.40,70.73 L592.92,71.78 L593.44,72.86 L593.96,73.97 L594.48,75.12 L595.00,76.30 L595.52,77.51 L596.04,78.77 L596.56,80.05 L597.08,81.38 L597.60,82.73 L598.12,84.13 L598.64,85.56 L599.16,87.02 L599.67,88.52 L600.19,90.06 L600.71,91.63 L601.23,93.23 L601.75,94.86 L602.27,96.50 L602.79,98.16 L603.31,99.83 L603.83,101.51 L604.35,103.19 L604.87,104.88 L605.39,106.55 L605.91,108.22 L606.43,109.87 L606.95,111.51 L607.46,113.12 L607.98,114.71 L608.50,116.26 L609.02,117.79 L609.54,119.27 L610.06,120.72 L610.58,122.13 L611.10,123.50 L611.62,124.83 L612.14,126.13 L612.66,127.39 L613.18,128.61 L613.70,129.79 L614.22,130.93 L614.74,132.04 L615.26,133.11 L615.77,134.14 L616.29,135.13 L616.81,136.08 L617.33,136.99 L617.85,137.87 L618.37,138.70 L618.89,139.50 L619.41,140.25 L619.93,140.97 L620.45,141.65 L620.97,142.29 L621.49,142.89 L622.01,143.45 L622.53,143.97 L623.05,144.45 L623.57,144.89 L624.08,145.29 L624.60,145.65 L625.12,145.97 L625.64,146.25 L626.16,146.49 L626.68,146.68 L627.20,146.84 L627.72,146.96 L628.24,147.03 L628.76,147.07 L676.10,147.10" stroke="#ff7f0e" stroke-dasharray="6.938 3.000" stroke-linecap="butt"/>
<path d="M504.63,88.34 L505.16,87.86 L505.68,87.42 L506.20,87.01 L506.73,86.64 L507.25,86.30 L507.78,85.99 L508.30,85.71 L508.83,85.46 L509.35,85.23 L509.87,85.03 L510.40,84.84 L510.92,84.68 L511.45,84.53 L511.97,84.39 L512.49,84.27 L513.02,84.16 L513.54,84.07 L514.07,83.97 L514.59,83.89 L515.12,83.81 L515.64,83.73 L516.16,83.64 L516.69,83.56 L517.21,83.48 L517.74,83.38 L518.26,83.28 L518.79,83.17 L519.31,83.05 L519.83,82.92 L520.36,82.77 L520.88,82.61 L521.41,82.43 L521.93,82.25 L522.45,82.06 L522.98,81.86 L523.50,81.65 L524.03,81.44 L524.55,81.23 L525.08,81.01 L525.60,80.79 L526.12,80.58 L526.65,80.36 L527.17,80.15 L527.70,79.95 L528.22,79.75 L528.74,79.56 L529.27,79.37 L529.79,79.20 L530.32,79.04 L530.84,78.88 L531.37,78.73 L531.89,78.59 L532.41,78.45 L532.94,78.32 L533.46,78.19 L533.99,78.06 L534.51,77.93 L535.04,77.81 L535.56,77.68 L536.08,77.56 L536.61,77.43 L537.13,77.30 L537.66,77.16 L538.18,77.03 L538.70,76.88 L539.23,76.73 L539.75,76.57 L540.28,76.41 L540.80,76.24 L541.33,76.05 L541.85,75.86 L542.37,75.66 L542.90,75.44 L543.42,75.21 L543.95,74.97 L544.47,74.71 L544.99,74.45 L545.52,74.17 L546.04,73.88 L546.57,73.59 L547.09,73.28 L547.62,72.96 L548.14,72.64 L548.66,72.31 L549.19,71.97 L549.71,71.62 L550.24,71.27 L550.76,70.91 L551.28,70.54 L551.81,70.17 L552.33,69.79 L552.86,69.42 L553.38,69.03 L553.91,68.65 L554.43,68.26 L554.95,67.87 L555.48,67.48 L556.00,67.08 L556.53,66.69 L557.05,66.30 L557.58,65.90 L558.10,65.51 L558.62,65.12 L559.15,64.73 L559.67,64.34 L560.20,63.96 L560.72,63.58 L561.24,63.20 L561.77,62.83 L562.29,62.46 L562.82,62.10 L563.34,61.74 L563.87,61.39 L564.39,61.04 L564.91,60.71 L565.44,60.38 L565.96,60.06 L566.49,59.75 L567.01,59.45 L567.53,59.15 L568.06,58.87 L568.58,58.60 L569.11,58.34 L569.63,58.09 L570.16,57.86 L570.68,57.63 L571.20,57.42 L571.73,57.23 L572.25,57.05 L572.78,56.88 L573.30,56.73 L573.83,56.59 L574.35,56.47 L574.87,56.37 L575.40,56.29 L575.92,56.22 L576.45,56.18 L576.97,56.15 L577.49,56.15 L578.02,56.16 L578.54,56.20 L579.07,56.26 L579.59,56.34 L580.12,56.45 L580.64,56.58 L581.16,56.74 L581.69,56.93 L582.21,57.14 L582.74,57.37 L583.26,57.64 L583.78,57.93 L584.31,58.26 L584.83,58.61 L585.36,59.00 L585.88,59.41 L586.41,59.86 L586.93,60.34 L587.45,60.86 L587.98,61.41 L588.50,61.99 L589.03,62.61 L589.55,63.26 L590.07,63.95 L590.60,64.68 L591.12,65.45 L591.65,66.26 L592.17,67.10 L592.70,67.99 L593.22,68.91 L593.74,69.88 L594.27,70.89 L594.79,71.95 L595.32,73.04 L595.84,74.18 L596.37,75.37 L596.89,76.60 L597.41,77.88 L597.94,79.20 L598.46,80.57 L598.99,81.99 L599.51,83.46 L600.03,84.98 L600.56,86.55 L601.08,88.17 L601.61,89.83 L602.13,91.55 L602.66,93.29 L603.18,95.07 L603.70,96.87 L604.23,98.69 L604.75,100.52 L605.28,102.36 L605.80,104.19 L606.32,106.01 L606.85,107.83 L607.37,109.62 L607.90,111.38 L608.42,113.11 L608.95,114.80 L609.47,116.45 L609.99,118.04 L610.52,119.58 L611.04,121.06 L611.57,122.48 L612.09,123.84 L612.62,125.15 L613.14,126.41 L613.66,127.62 L614.19,128.77 L614.71,129.88 L615.24,130.94 L615.76,131.95 L616.28,132.92 L616.81,133.84 L617.33,134.73 L617.86,135.57 L618.38,136.37 L618.91,137.14 L619.43,137.87 L619.95,138.57 L620.48,139.23 L621.00,139.86 L621.53,140.46 L622.05,141.04 L622.57,141.58 L623.10,142.10 L623.62,142.59 L624.15,143.06 L624.67,143.51 L625.20,143.94 L625.72,144.34 L626.24,144.73 L626.77,145.11 L627.29,145.47 L627.82,145.81 L628.34,146.15 L628.86,146.47 L629.39,146.78 L629.91,147.09 L676.10,147.10" stroke="#2ca02c" stroke-dasharray="1.875 3.094" stroke-linecap="butt"/>
<path d="M506.10,89.77 L506.59,89.39 L507.08,89.02 L507.57,88.65 L508.05,88.29 L508.54,87.94 L509.03,87.60 L509.52,87.26 L510.01,86.92 L510.50,86.60 L510.99,86.28 L511.48,85.96 L511.97,85.65 L512.46,85.35 L512.95,85.05 L513.43,84.75 L513.92,84.46 L514.41,84.17 L514.90,83.89 L515.39,83.61 L515.88,83.33 L516.37,83.06 L516.86,82.79 L517.35,82.52 L517.84,82.25 L518.33,81.98 L518.81,81.72 L519.30,81.46 L519.79,81.20 L520.28,80.94 L520.77,80.68 L521.26,80.42 L521.75,80.16 L522.24,79.90 L522.73,79.64 L523.22,79.38 L523.70,79.12 L524.19,78.85 L524.68,78.59 L525.17,78.33 L525.66,78.06 L526.15,77.79 L526.64,77.52 L527.13,77.24 L527.62,76.96 L528.11,76.68 L528.60,76.40 L529.08,76.11 L529.57,75.82 L530.06,75.52 L530.55,75.22 L531.04,74.91 L531.53,74.60 L532.02,74.29 L532.51,73.96 L533.00,73.64 L533.49,73.31 L533.98,72.97 L534.46,72.62 L534.95,72.28 L535.44,71.92 L535.93,71.56 L536.42,71.19 L536.91,70.82 L537.40,70.44 L537.89,70.06 L538.38,69.67 L538.87,69.27 L539.35,68.87 L539.84,68.46 L540.33,68.04 L540.82,67.62 L541.31,67.19 L541.80,66.76 L542.29,66.31 L542.78,65.87 L543.27,65.41 L543.76,64.95 L544.25,64.48 L544.73,64.00 L545.22,63.52 L545.71,63.03 L546.20,62.53 L546.69,62.02 L547.18,61.51 L547.67,60.99 L548.16,60.47 L548.65,59.94 L549.14,59.41 L549.63,58.87 L550.11,58.34 L550.60,57.80 L551.09,57.26 L551.58,56.73 L552.07,56.19 L552.56,55.66 L553.05,55.13 L553.54,54.61 L554.03,54.09 L554.52,53.57 L555.01,53.07 L555.49,52.57 L555.98,52.08 L556.47,51.60 L556.96,51.13 L557.45,50.67 L557.94,50.23 L558.43,49.79 L558.92,49.37 L559.41,48.97 L559.90,48.58 L560.38,48.21 L560.87,47.85 L561.36,47.52 L561.85,47.20 L562.34,46.90 L562.83,46.63 L563.32,46.37 L563.81,46.14 L564.30,45.93 L564.79,45.75 L565.28,45.59 L565.76,45.45 L566.25,45.35 L566.74,45.27 L567.23,45.22 L567.72,45.20 L568.21,45.21 L568.70,45.25 L569.19,45.33 L569.68,45.43 L570.17,45.58 L570.66,45.75 L571.14,45.96 L571.63,46.21 L572.12,46.50 L572.61,46.81 L573.10,47.17 L573.59,47.56 L574.08,47.98 L574.57,48.44 L575.06,48.93 L575.55,49.46 L576.03,50.01 L576.52,50.60 L577.01,51.23 L577.50,51.88 L577.99,52.57 L578.48,53.29 L578.97,54.03 L579.46,54.81 L579.95,55.62 L580.44,56.46 L580.93,57.32 L581.41,58.22 L581.90,59.14 L582.39,60.10 L582.88,61.08 L583.37,62.09 L583.86,63.12 L584.35,64.18 L584.84,65.27 L585.33,66.38 L585.82,67.52 L586.31,68.69 L586.79,69.88 L587.28,71.09 L587.77,72.33 L588.26,73.59 L588.75,74.88 L589.24,76.18 L589.73,77.51 L590.22,78.87 L590.71,80.24 L591.20,81.64 L591.69,83.06 L592.17,84.49 L592.66,85.95 L593.15,87.43 L593.64,88.93 L594.13,90.44 L594.62,91.98 L595.11,93.52 L595.60,95.07 L596.09,96.63 L596.58,98.20 L597.06,99.77 L597.55,101.33 L598.04,102.90 L598.53,104.46 L599.02,106.00 L599.51,107.54 L600.00,109.06 L600.49,110.57 L600.98,112.06 L601.47,113.52 L601.96,114.96 L602.44,116.38 L602.93,117.76 L603.42,119.11 L603.91,120.42 L604.40,121.70 L604.89,122.95 L605.38,124.16 L605.87,125.33 L606.36,126.47 L606.85,127.58 L607.34,128.66 L607.82,129.70 L608.31,130.70 L608.80,131.68 L609.29,132.62 L609.78,133.53 L610.27,134.41 L610.76,135.26 L611.25,136.07 L611.74,136.86 L612.23,137.62 L612.71,138.34 L613.20,139.03 L613.69,139.70 L614.18,140.34 L614.67,140.94 L615.16,141.52 L615.65,142.07 L616.14,142.59 L616.63,143.08 L617.12,143.55 L617.61,143.99 L618.09,144.40 L618.58,144.78 L619.07,145.14 L619.56,145.48 L620.05,145.78 L620.54,146.06 L621.03,146.32 L621.52,146.55 L622.01,146.76 L622.50,146.94 L622.99,147.10 L676.10,147.10" stroke="#d62728" stroke-dasharray="12.000 3.000 1.875 3.000" stroke-linecap="butt"/>
</g>
<rect x="502.90" y="10.46" width="173.20" height="136.64" fill="none" stroke="#000" stroke-width="1.000" stroke-linecap="square"/>
<path d="M502.90,147.10 v4.375 M537.54,147.10 v4.375 M572.18,147.10 v4.375 M606.82,147.10 v4.375 M641.46,147.10 v4.375 M676.10,147.10 v4.375 M502.90,147.10 h-4.375 M502.90,112.94 h-4.375 M502.90,78.78 h-4.375 M502.90,44.62 h-4.375 M502.90,10.46 h-4.375" stroke="#000" stroke-width="1.000"/>
<rect x="592.80" y="24.30" width="80.20" height="21.45" fill="#fff" stroke="#000" stroke-width="1.250"/>
<g clip-path="url(#cp10)" fill="none" stroke-width="1.875" stroke-linejoin="round">
<path d="M54.66,339.57 L55.20,339.09 L55.74,338.62 L56.28,338.15 L56.82,337.69 L57.36,337.22 L57.91,336.76 L58.45,336.31 L58.99,335.85 L59.53,335.40 L60.07,334.95 L60.61,334.50 L61.15,334.04 L61.69,333.59 L62.23,333.14 L62.78,332.68 L63.32,332.23 L63.86,331.77 L64.40,331.31 L64.94,330.85 L65.48,330.38 L66.02,329.91 L66.56,329.43 L67.10,328.95 L67.65,328.47 L68.19,327.97 L68.73,327.48 L69.27,326.97 L69.81,326.46 L70.35,325.94 L70.89,325.41 L71.43,324.88 L71.97,324.33 L72.52,323.78 L73.06,323.22 L73.60,322.64 L74.14,322.06 L74.68,321.46 L75.22,320.86 L75.76,320.24 L76.30,319.60 L76.84,318.96 L77.39,318.30 L77.93,317.63 L78.47,316.94 L79.01,316.24 L79.55,315.53 L80.09,314.80 L80.63,314.06 L81.17,313.31 L81.71,312.54 L82.26,311.77 L82.80,310.98 L83.34,310.18 L83.88,309.37 L84.42,308.55 L84.96,307.73 L85.50,306.89 L86.04,306.05 L86.58,305.19 L87.13,304.33 L87.67,303.47 L88.21,302.59 L88.75,301.71 L89.29,300.83 L89.83,299.94 L90.37,299.04 L90.91,298.14 L91.45,297.24 L92.00,296.33 L92.54,295.42 L93.08,294.51 L93.62,293.60 L94.16,292.68 L94.70,291.77 L95.24,290.85 L95.78,289.93 L96.32,289.02 L96.87,288.10 L97.41,287.19 L97.95,286.29 L98.49,285.39 L99.03,284.49 L99.57,283.61 L100.11,282.73 L100.65,281.86 L101.19,281.01 L101.73,280.16 L102.28,279.33 L102.82,278.51 L103.36,277.71 L103.90,276.92 L104.44,276.15 L104.98,275.39 L105.52,274.66 L106.06,273.94 L106.60,273.25 L107.15,272.58 L107.69,271.93 L108.23,271.30 L108.77,270.70 L109.31,270.13 L109.85,269.58 L110.39,269.06 L110.93,268.57 L111.47,268.11 L112.02,267.68 L112.56,267.28 L113.10,266.92 L113.64,266.59 L114.18,266.29 L114.72,266.04 L115.26,265.82 L115.80,265.63 L116.34,265.49 L116.89,265.39 L117.43,265.32 L117.97,265.30 L118.51,265.33 L119.05,265.40 L119.59,265.51 L120.13,265.67 L120.67,265.88 L121.21,266.13 L121.76,266.44 L122.30,266.80 L122.84,267.20 L123.38,267.66 L123.92,268.17 L124.46,268.73 L125.00,269.33 L125.54,269.98 L126.08,270.68 L126.63,271.42 L127.17,272.20 L127.71,273.03 L128.25,273.90 L128.79,274.81 L129.33,275.75 L129.87,276.74 L130.41,277.76 L130.95,278.82 L131.50,279.91 L132.04,281.04 L132.58,282.20 L133.12,283.39 L133.66,284.61 L134.20,285.86 L134.74,287.14 L135.28,288.45 L135.82,289.78 L136.37,291.14 L136.91,292.52 L137.45,293.92 L137.99,295.35 L138.53,296.80 L139.07,298.26 L139.61,299.75 L140.15,301.25 L140.69,302.77 L141.24,304.31 L141.78,305.86 L142.32,307.42 L142.86,309.00 L143.40,310.59 L143.94,312.18 L144.48,313.79 L145.02,315.40 L145.56,317.02 L146.11,318.63 L146.65,320.25 L147.19,321.87 L147.73,323.48 L148.27,325.09 L148.81,326.68 L149.35,328.27 L149.89,329.85 L150.43,331.41 L150.97,332.96 L151.52,334.49 L152.06,336.00 L152.60,337.48 L153.14,338.94 L153.68,340.38 L154.22,341.79 L154.76,343.17 L155.30,344.51 L155.84,345.83 L156.39,347.12 L156.93,348.38 L157.47,349.60 L158.01,350.80 L158.55,351.97 L159.09,353.11 L159.63,354.22 L160.17,355.30 L160.71,356.35 L161.26,357.37 L161.80,358.36 L162.34,359.33 L162.88,360.26 L163.42,361.17 L163.96,362.05 L164.50,362.90 L165.04,363.72 L165.58,364.52 L166.13,365.28 L166.67,366.02 L167.21,366.74 L167.75,367.42 L168.29,368.08 L168.83,368.71 L169.37,369.31 L169.91,369.89 L170.45,370.44 L171.00,370.96 L171.54,371.46 L172.08,371.93 L172.62,372.37 L173.16,372.79 L173.70,373.18 L174.24,373.55 L174.78,373.89 L175.32,374.21 L175.87,374.50 L176.41,374.76 L176.95,375.01 L177.49,375.22 L178.03,375.41 L178.57,375.58 L179.11,375.72 L179.65,375.84 L180.19,375.93 L180.74,375.95 L181.28,375.95 L181.82,375.95 L182.36,375.95 L182.90,375.95 L183.44,375.95 L183.98,375.91 L225.55,375.95" stroke="#1f77b4"  stroke-linecap="square"/>
<path d="M54.66,339.57 L55.21,339.12 L55.76,338.67 L56.31,338.23 L56.86,337.79 L57.41,337.34 L57.96,336.90 L58.51,336.46 L59.07,336.01 L59.62,335.57 L60.17,335.13 L60.72,334.68 L61.27,334.24 L61.82,333.79 L62.37,333.34 L62.92,332.90 L63.47,332.45 L64.02,331.99 L64.57,331.54 L65.12,331.08 L65.67,330.62 L66.23,330.16 L66.78,329.70 L67.33,329.23 L67.88,328.76 L68.43,328.29 L68.98,327.81 L69.53,327.33 L70.08,326.85 L70.63,326.36 L71.18,325.86 L71.73,325.37 L72.28,324.86 L72.83,324.36 L73.39,323.84 L73.94,323.33 L74.49,322.80 L75.04,322.27 L75.59,321.74 L76.14,321.20 L76.69,320.65 L77.24,320.10 L77.79,319.54 L78.34,318.97 L78.89,318.40 L79.44,317.82 L79.99,317.23 L80.55,316.63 L81.10,316.03 L81.65,315.41 L82.20,314.79 L82.75,314.17 L83.30,313.53 L83.85,312.88 L84.40,312.23 L84.95,311.56 L85.50,310.89 L86.05,310.21 L86.60,309.52 L87.15,308.81 L87.71,308.10 L88.26,307.38 L88.81,306.64 L89.36,305.90 L89.91,305.14 L90.46,304.38 L91.01,303.60 L91.56,302.81 L92.11,302.01 L92.66,301.20 L93.21,300.38 L93.76,299.54 L94.31,298.69 L94.86,297.83 L95.42,296.96 L95.97,296.07 L96.52,295.18 L97.07,294.28 L97.62,293.38 L98.17,292.47 L98.72,291.55 L99.27,290.64 L99.82,289.72 L100.37,288.80 L100.92,287.88 L101.47,286.96 L102.02,286.05 L102.58,285.14 L103.13,284.24 L103.68,283.34 L104.23,282.45 L104.78,281.57 L105.33,280.70 L105.88,279.84 L106.43,279.00 L106.98,278.16 L107.53,277.35 L108.08,276.55 L108.63,275.76 L109.18,275.00 L109.74,274.25 L110.29,273.53 L110.84,272.82 L111.39,272.14 L111.94,271.49 L112.49,270.86 L113.04,270.26 L113.59,269.68 L114.14,269.14 L114.69,268.62 L115.24,268.14 L115.79,267.69 L116.34,267.27 L116.90,266.89 L117.45,266.55 L118.00,266.24 L118.55,265.97 L119.10,265.74 L119.65,265.55 L120.20,265.41 L120.75,265.31 L121.30,265.25 L121.85,265.24 L122.40,265.27 L122.95,265.36 L123.50,265.49 L124.06,265.67 L124.61,265.91 L125.16,266.20 L125.71,266.54 L126.26,266.93 L126.81,267.39 L127.36,267.90 L127.91,268.47 L128.46,269.10 L129.01,269.79 L129.56,270.55 L130.11,271.37 L130.66,272.25 L131.22,273.20 L131.77,274.20 L132.32,275.27 L132.87,276.40 L133.42,277.58 L133.97,278.81 L134.52,280.09 L135.07,281.42 L135.62,282.79 L136.17,284.21 L136.72,285.66 L137.27,287.15 L137.82,288.67 L138.38,290.23 L138.93,291.81 L139.48,293.42 L140.03,295.06 L140.58,296.72 L141.13,298.39 L141.68,300.08 L142.23,301.79 L142.78,303.50 L143.33,305.23 L143.88,306.96 L144.43,308.69 L144.98,310.43 L145.53,312.16 L146.09,313.89 L146.64,315.61 L147.19,317.33 L147.74,319.04 L148.29,320.73 L148.84,322.42 L149.39,324.10 L149.94,325.76 L150.49,327.40 L151.04,329.03 L151.59,330.64 L152.14,332.23 L152.69,333.80 L153.25,335.35 L153.80,336.87 L154.35,338.37 L154.90,339.84 L155.45,341.28 L156.00,342.70 L156.55,344.08 L157.10,345.44 L157.65,346.75 L158.20,348.04 L158.75,349.29 L159.30,350.50 L159.85,351.68 L160.41,352.82 L160.96,353.93 L161.51,355.01 L162.06,356.05 L162.61,357.06 L163.16,358.04 L163.71,358.99 L164.26,359.91 L164.81,360.79 L165.36,361.65 L165.91,362.47 L166.46,363.27 L167.01,364.04 L167.57,364.78 L168.12,365.49 L168.67,366.17 L169.22,366.82 L169.77,367.45 L170.32,368.05 L170.87,368.63 L171.42,369.18 L171.97,369.70 L172.52,370.20 L173.07,370.68 L173.62,371.13 L174.17,371.56 L174.73,371.96 L175.28,372.35 L175.83,372.71 L176.38,373.05 L176.93,373.37 L177.48,373.66 L178.03,373.94 L178.58,374.20 L179.13,374.43 L179.68,374.65 L180.23,374.85 L180.78,375.03 L181.33,375.20 L181.89,375.34 L182.44,375.47 L182.99,375.58 L183.54,375.68 L184.09,375.76 L184.64,375.83 L185.19,375.88 L185.74,375.91 L186.29,375.94 L225.55,375.95" stroke="#ff7f0e" stroke-dasharray="6.938 3.000" stroke-linecap="butt"/>
<path d="M54.66,339.57 L55.21,339.09 L55.77,338.61 L56.33,338.14 L56.88,337.67 L57.44,337.21 L57.99,336.75 L58.55,336.29 L59.10,335.84 L59.66,335.40 L60.22,334.96 L60.77,334.52 L61.33,334.08 L61.88,333.64 L62.44,333.21 L62.99,332.78 L63.55,332.35 L64.10,331.92 L64.66,331.49 L65.22,331.06 L65.77,330.63 L66.33,330.20 L66.88,329.77 L67.44,329.34 L67.99,328.91 L68.55,328.47 L69.10,328.03 L69.66,327.59 L70.22,327.15 L70.77,326.71 L71.33,326.26 L71.88,325.80 L72.44,325.34 L72.99,324.88 L73.55,324.41 L74.11,323.94 L74.66,323.46 L75.22,322.98 L75.77,322.48 L76.33,321.99 L76.88,321.48 L77.44,320.97 L77.99,320.45 L78.55,319.92 L79.11,319.38 L79.66,318.84 L80.22,318.28 L80.77,317.72 L81.33,317.14 L81.88,316.56 L82.44,315.96 L82.99,315.36 L83.55,314.74 L84.11,314.11 L84.66,313.47 L85.22,312.81 L85.77,312.15 L86.33,311.47 L86.88,310.78 L87.44,310.07 L87.99,309.35 L88.55,308.62 L89.11,307.87 L89.66,307.11 L90.22,306.33 L90.77,305.53 L91.33,304.72 L91.88,303.89 L92.44,303.05 L93.00,302.20 L93.55,301.33 L94.11,300.45 L94.66,299.56 L95.22,298.66 L95.77,297.76 L96.33,296.84 L96.88,295.93 L97.44,295.00 L98.00,294.08 L98.55,293.15 L99.11,292.22 L99.66,291.29 L100.22,290.36 L100.77,289.44 L101.33,288.51 L101.88,287.60 L102.44,286.68 L103.00,285.78 L103.55,284.88 L104.11,283.99 L104.66,283.11 L105.22,282.25 L105.77,281.39 L106.33,280.55 L106.89,279.72 L107.44,278.91 L108.00,278.12 L108.55,277.34 L109.11,276.58 L109.66,275.85 L110.22,275.13 L110.77,274.44 L111.33,273.77 L111.89,273.13 L112.44,272.51 L113.00,271.92 L113.55,271.35 L114.11,270.82 L114.66,270.32 L115.22,269.84 L115.77,269.40 L116.33,269.00 L116.89,268.63 L117.44,268.29 L118.00,268.00 L118.55,267.74 L119.11,267.51 L119.66,267.33 L120.22,267.19 L120.77,267.08 L121.33,267.02 L121.89,267.00 L122.44,267.02 L123.00,267.08 L123.55,267.19 L124.11,267.34 L124.66,267.54 L125.22,267.78 L125.78,268.07 L126.33,268.40 L126.89,268.78 L127.44,269.21 L128.00,269.69 L128.55,270.21 L129.11,270.79 L129.66,271.42 L130.22,272.09 L130.78,272.82 L131.33,273.61 L131.89,274.44 L132.44,275.33 L133.00,276.27 L133.55,277.26 L134.11,278.30 L134.66,279.38 L135.22,280.51 L135.78,281.68 L136.33,282.90 L136.89,284.15 L137.44,285.44 L138.00,286.77 L138.55,288.13 L139.11,289.52 L139.67,290.94 L140.22,292.39 L140.78,293.87 L141.33,295.37 L141.89,296.90 L142.44,298.45 L143.00,300.02 L143.55,301.60 L144.11,303.21 L144.67,304.83 L145.22,306.46 L145.78,308.10 L146.33,309.75 L146.89,311.41 L147.44,313.07 L148.00,314.74 L148.55,316.41 L149.11,318.09 L149.67,319.76 L150.22,321.42 L150.78,323.09 L151.33,324.74 L151.89,326.39 L152.44,328.02 L153.00,329.65 L153.55,331.26 L154.11,332.85 L154.67,334.42 L155.22,335.98 L155.78,337.52 L156.33,339.03 L156.89,340.51 L157.44,341.97 L158.00,343.40 L158.56,344.80 L159.11,346.18 L159.67,347.52 L160.22,348.83 L160.78,350.11 L161.33,351.36 L161.89,352.58 L162.44,353.76 L163.00,354.92 L163.56,356.04 L164.11,357.13 L164.67,358.18 L165.22,359.20 L165.78,360.19 L166.33,361.14 L166.89,362.05 L167.44,362.93 L168.00,363.78 L168.56,364.59 L169.11,365.36 L169.67,366.11 L170.22,366.82 L170.78,367.50 L171.33,368.15 L171.89,368.77 L172.44,369.35 L173.00,369.91 L173.56,370.44 L174.11,370.94 L174.67,371.41 L175.22,371.86 L175.78,372.28 L176.33,372.67 L176.89,373.04 L177.45,373.38 L178.00,373.69 L178.56,373.99 L179.11,374.26 L179.67,374.51 L180.22,374.73 L180.78,374.94 L181.33,375.12 L181.89,375.28 L182.45,375.43 L183.00,375.55 L183.56,375.66 L184.11,375.75 L184.67,375.82 L185.22,375.87 L185.78,375.91 L186.33,375.93 L186.89,375.94 L187.45,375.93 L225.55,375.95" stroke="#2ca02c" stroke-dasharray="1.875 3.094" stroke-linecap="butt"/>
<path d="M54.66,339.35 L55.17,338.99 L55.67,338.62 L56.18,338.22 L56.69,337.81 L57.20,337.38 L57.70,336.93 L58.21,336.46 L58.72,335.97 L59.22,335.47 L59.73,334.95 L60.24,334.41 L60.75,333.85 L61.25,333.28 L61.76,332.69 L62.27,332.09 L62.78,331.47 L63.28,330.83 L63.79,330.18 L64.30,329.52 L64.80,328.83 L65.31,328.14 L65.82,327.43 L66.33,326.71 L66.83,325.97 L67.34,325.22 L67.85,324.46 L68.36,323.68 L68.86,322.89 L69.37,322.09 L69.88,321.28 L70.39,320.46 L70.89,319.62 L71.40,318.77 L71.91,317.91 L72.41,317.04 L72.92,316.16 L73.43,315.28 L73.94,314.38 L74.44,313.47 L74.95,312.55 L75.46,311.62 L75.97,310.68 L76.47,309.74 L76.98,308.78 L77.49,307.82 L77.99,306.85 L78.50,305.88 L79.01,304.89 L79.52,303.90 L80.02,302.90 L80.53,301.90 L81.04,300.89 L81.55,299.87 L82.05,298.85 L82.56,297.82 L83.07,296.79 L83.57,295.75 L84.08,294.71 L84.59,293.67 L85.10,292.62 L85.60,291.56 L86.11,290.50 L86.62,289.44 L87.13,288.38 L87.63,287.31 L88.14,286.25 L88.65,285.18 L89.15,284.11 L89.66,283.05 L90.17,281.99 L90.68,280.94 L91.18,279.89 L91.69,278.85 L92.20,277.82 L92.71,276.80 L93.21,275.80 L93.72,274.80 L94.23,273.82 L94.73,272.85 L95.24,271.90 L95.75,270.97 L96.26,270.05 L96.76,269.15 L97.27,268.28 L97.78,267.43 L98.29,266.60 L98.79,265.80 L99.30,265.02 L99.81,264.27 L100.31,263.55 L100.82,262.85 L101.33,262.19 L101.84,261.56 L102.34,260.96 L102.85,260.40 L103.36,259.88 L103.87,259.39 L104.37,258.94 L104.88,258.52 L105.39,258.15 L105.89,257.82 L106.40,257.52 L106.91,257.27 L107.42,257.05 L107.92,256.88 L108.43,256.75 L108.94,256.65 L109.45,256.60 L109.95,256.60 L110.46,256.63 L110.97,256.70 L111.47,256.82 L111.98,256.98 L112.49,257.18 L113.00,257.43 L113.50,257.72 L114.01,258.05 L114.52,258.42 L115.03,258.84 L115.53,259.31 L116.04,259.82 L116.55,260.37 L117.05,260.97 L117.56,261.62 L118.07,262.31 L118.58,263.04 L119.08,263.82 L119.59,264.64 L120.10,265.51 L120.61,266.41 L121.11,267.36 L121.62,268.34 L122.13,269.36 L122.63,270.41 L123.14,271.50 L123.65,272.63 L124.16,273.78 L124.66,274.97 L125.17,276.18 L125.68,277.42 L126.19,278.69 L126.69,279.99 L127.20,281.31 L127.71,282.65 L128.21,284.02 L128.72,285.40 L129.23,286.81 L129.74,288.23 L130.24,289.67 L130.75,291.13 L131.26,292.60 L131.77,294.09 L132.27,295.59 L132.78,297.09 L133.29,298.61 L133.80,300.14 L134.30,301.67 L134.81,303.21 L135.32,304.76 L135.82,306.30 L136.33,307.85 L136.84,309.41 L137.35,310.96 L137.85,312.51 L138.36,314.05 L138.87,315.60 L139.38,317.14 L139.88,318.67 L140.39,320.19 L140.90,321.71 L141.40,323.21 L141.91,324.71 L142.42,326.19 L142.93,327.66 L143.43,329.11 L143.94,330.55 L144.45,331.97 L144.96,333.37 L145.46,334.75 L145.97,336.12 L146.48,337.47 L146.98,338.80 L147.49,340.11 L148.00,341.40 L148.51,342.67 L149.01,343.92 L149.52,345.15 L150.03,346.37 L150.54,347.56 L151.04,348.73 L151.55,349.88 L152.06,351.01 L152.56,352.12 L153.07,353.20 L153.58,354.27 L154.09,355.31 L154.59,356.33 L155.10,357.33 L155.61,358.31 L156.12,359.26 L156.62,360.19 L157.13,361.09 L157.64,361.98 L158.14,362.83 L158.65,363.67 L159.16,364.48 L159.67,365.26 L160.17,366.02 L160.68,366.76 L161.19,367.47 L161.70,368.15 L162.20,368.81 L162.71,369.44 L163.22,370.04 L163.72,370.62 L164.23,371.17 L164.74,371.70 L165.25,372.19 L165.75,372.66 L166.26,373.10 L166.77,373.52 L167.28,373.90 L167.78,374.26 L168.29,374.58 L168.80,374.88 L169.30,375.15 L169.81,375.39 L170.32,375.60 L170.83,375.78 L171.33,375.92 L171.84,375.95 L172.35,375.95 L172.86,375.95 L173.36,375.95 L173.87,375.95 L174.38,375.95 L174.88,375.95 L175.39,375.95 L175.90,375.86 L225.55,375.95" stroke="#d62728" stroke-dasharray="12.000 3.000 1.875 3.000" stroke-linecap="butt"/>
</g>
<rect x="52.35" y="239.43" width="173.20" height="136.52" fill="none" stroke="#000" stroke-width="1.000" stroke-linecap="square"/>
<path d="M52.35,375.95 v4.375 M86.99,375.95 v4.375 M121.63,375.95 v4.375 M156.27,375.95 v4.375 M190.91,375.95 v4.375 M225.55,375.95 v4.375 M52.35,375.95 h-4.375 M52.35,341.82 h-4.375 M52.35,307.69 h-4.375 M52.35,273.56 h-4.375 M52.35,239.43 h-4.375" stroke="#000" stroke-width="1.000"/>
<rect x="150.20" y="253.15" width="64.30" height="21.45" fill="#fff" stroke="#000" stroke-width="1.250"/>
<g clip-path="url(#cp11)" fill="none" stroke-width="1.875" stroke-linejoin="round">
<path d="M279.81,328.71 L280.33,328.29 L280.85,327.87 L281.37,327.46 L281.90,327.06 L282.42,326.68 L282.94,326.30 L283.46,325.92 L283.98,325.56 L284.51,325.20 L285.03,324.85 L285.55,324.50 L286.07,324.17 L286.59,323.83 L287.11,323.50 L287.64,323.18 L288.16,322.86 L288.68,322.55 L289.20,322.24 L289.72,321.93 L290.24,321.62 L290.77,321.32 L291.29,321.02 L291.81,320.72 L292.33,320.42 L292.85,320.13 L293.38,319.83 L293.90,319.53 L294.42,319.24 L294.94,318.94 L295.46,318.64 L295.98,318.34 L296.51,318.03 L297.03,317.73 L297.55,317.42 L298.07,317.11 L298.59,316.80 L299.11,316.48 L299.64,316.15 L300.16,315.83 L300.68,315.49 L301.20,315.15 L301.72,314.81 L302.25,314.46 L302.77,314.10 L303.29,313.73 L303.81,313.36 L304.33,312.98 L304.85,312.59 L305.38,312.19 L305.90,311.79 L306.42,311.37 L306.94,310.94 L307.46,310.51 L307.99,310.06 L308.51,309.60 L309.03,309.14 L309.55,308.66 L310.07,308.18 L310.59,307.68 L311.12,307.18 L311.64,306.66 L312.16,306.14 L312.68,305.61 L313.20,305.07 L313.72,304.52 L314.25,303.97 L314.77,303.40 L315.29,302.83 L315.81,302.25 L316.33,301.66 L316.86,301.07 L317.38,300.46 L317.90,299.85 L318.42,299.23 L318.94,298.61 L319.46,297.97 L319.99,297.33 L320.51,296.69 L321.03,296.03 L321.55,295.37 L322.07,294.71 L322.59,294.03 L323.12,293.36 L323.64,292.67 L324.16,291.98 L324.68,291.29 L325.20,290.59 L325.73,289.89 L326.25,289.19 L326.77,288.49 L327.29,287.79 L327.81,287.09 L328.33,286.40 L328.86,285.70 L329.38,285.01 L329.90,284.33 L330.42,283.65 L330.94,282.98 L331.46,282.32 L331.99,281.66 L332.51,281.02 L333.03,280.39 L333.55,279.76 L334.07,279.15 L334.60,278.56 L335.12,277.98 L335.64,277.41 L336.16,276.86 L336.68,276.33 L337.20,275.81 L337.73,275.32 L338.25,274.84 L338.77,274.39 L339.29,273.95 L339.81,273.54 L340.34,273.16 L340.86,272.79 L341.38,272.46 L341.90,272.15 L342.42,271.86 L342.94,271.61 L343.47,271.38 L343.99,271.19 L344.51,271.02 L345.03,270.89 L345.55,270.79 L346.07,270.73 L346.60,270.70 L347.12,270.70 L347.64,270.74 L348.16,270.82 L348.68,270.94 L349.21,271.10 L349.73,271.29 L350.25,271.53 L350.77,271.81 L351.29,272.13 L351.81,272.50 L352.34,272.91 L352.86,273.37 L353.38,273.88 L353.90,274.43 L354.42,275.03 L354.94,275.68 L355.47,276.37 L355.99,277.11 L356.51,277.89 L357.03,278.72 L357.55,279.59 L358.08,280.49 L358.60,281.44 L359.12,282.43 L359.64,283.46 L360.16,284.52 L360.68,285.62 L361.21,286.76 L361.73,287.93 L362.25,289.14 L362.77,290.37 L363.29,291.64 L363.81,292.94 L364.34,294.27 L364.86,295.63 L365.38,297.01 L365.90,298.43 L366.42,299.86 L366.95,301.33 L367.47,302.81 L367.99,304.32 L368.51,305.86 L369.03,307.41 L369.55,308.98 L370.08,310.58 L370.60,312.19 L371.12,313.81 L371.64,315.46 L372.16,317.11 L372.69,318.78 L373.21,320.45 L373.73,322.13 L374.25,323.81 L374.77,325.49 L375.29,327.17 L375.82,328.84 L376.34,330.51 L376.86,332.17 L377.38,333.82 L377.90,335.46 L378.42,337.07 L378.95,338.67 L379.47,340.25 L379.99,341.81 L380.51,343.34 L381.03,344.84 L381.56,346.31 L382.08,347.75 L382.60,349.15 L383.12,350.52 L383.64,351.85 L384.16,353.14 L384.69,354.40 L385.21,355.63 L385.73,356.81 L386.25,357.96 L386.77,359.08 L387.29,360.16 L387.82,361.20 L388.34,362.21 L388.86,363.18 L389.38,364.12 L389.90,365.02 L390.43,365.88 L390.95,366.71 L391.47,367.50 L391.99,368.26 L392.51,368.98 L393.03,369.67 L393.56,370.32 L394.08,370.94 L394.60,371.52 L395.12,372.07 L395.64,372.58 L396.16,373.05 L396.69,373.49 L397.21,373.90 L397.73,374.27 L398.25,374.60 L398.77,374.90 L399.30,375.17 L399.82,375.40 L400.34,375.60 L400.86,375.76 L401.38,375.88 L401.90,375.95 L402.43,375.95 L402.95,375.95 L403.47,375.95 L403.99,375.95 L404.51,375.91 L450.70,375.95" stroke="#1f77b4"  stroke-linecap="square"/>
<path d="M279.81,328.72 L280.34,328.35 L280.87,327.99 L281.40,327.64 L281.94,327.30 L282.47,326.96 L283.00,326.64 L283.53,326.32 L284.06,326.00 L284.59,325.70 L285.12,325.40 L285.66,325.11 L286.19,324.82 L286.72,324.53 L287.25,324.26 L287.78,323.98 L288.31,323.71 L288.84,323.44 L289.38,323.18 L289.91,322.91 L290.44,322.66 L290.97,322.40 L291.50,322.14 L292.03,321.89 L292.56,321.63 L293.10,321.38 L293.63,321.12 L294.16,320.87 L294.69,320.61 L295.22,320.35 L295.75,320.09 L296.28,319.83 L296.82,319.57 L297.35,319.30 L297.88,319.03 L298.41,318.76 L298.94,318.48 L299.47,318.20 L300.00,317.92 L300.54,317.63 L301.07,317.33 L301.60,317.03 L302.13,316.72 L302.66,316.40 L303.19,316.08 L303.72,315.75 L304.26,315.41 L304.79,315.06 L305.32,314.71 L305.85,314.34 L306.38,313.97 L306.91,313.59 L307.44,313.19 L307.98,312.79 L308.51,312.37 L309.04,311.95 L309.57,311.51 L310.10,311.06 L310.63,310.60 L311.16,310.13 L311.70,309.65 L312.23,309.16 L312.76,308.66 L313.29,308.15 L313.82,307.63 L314.35,307.10 L314.88,306.57 L315.42,306.03 L315.95,305.48 L316.48,304.92 L317.01,304.36 L317.54,303.79 L318.07,303.21 L318.60,302.63 L319.14,302.04 L319.67,301.45 L320.20,300.85 L320.73,300.25 L321.26,299.65 L321.79,299.04 L322.32,298.43 L322.86,297.82 L323.39,297.20 L323.92,296.58 L324.45,295.96 L324.98,295.34 L325.51,294.72 L326.04,294.10 L326.58,293.47 L327.11,292.85 L327.64,292.23 L328.17,291.61 L328.70,290.99 L329.23,290.37 L329.76,289.75 L330.30,289.13 L330.83,288.52 L331.36,287.91 L331.89,287.30 L332.42,286.70 L332.95,286.10 L333.48,285.51 L334.02,284.92 L334.55,284.33 L335.08,283.75 L335.61,283.18 L336.14,282.61 L336.67,282.06 L337.20,281.51 L337.74,280.97 L338.27,280.44 L338.80,279.93 L339.33,279.43 L339.86,278.94 L340.39,278.46 L340.92,278.00 L341.46,277.56 L341.99,277.14 L342.52,276.73 L343.05,276.34 L343.58,275.97 L344.11,275.63 L344.64,275.30 L345.18,275.00 L345.71,274.72 L346.24,274.46 L346.77,274.23 L347.30,274.03 L347.83,273.85 L348.36,273.70 L348.90,273.58 L349.43,273.49 L349.96,273.43 L350.49,273.40 L351.02,273.41 L351.55,273.44 L352.08,273.51 L352.62,273.62 L353.15,273.76 L353.68,273.94 L354.21,274.16 L354.74,274.41 L355.27,274.71 L355.80,275.04 L356.34,275.42 L356.87,275.84 L357.40,276.30 L357.93,276.81 L358.46,277.36 L358.99,277.95 L359.52,278.60 L360.06,279.29 L360.59,280.02 L361.12,280.81 L361.65,281.65 L362.18,282.54 L362.71,283.48 L363.24,284.47 L363.78,285.52 L364.31,286.62 L364.84,287.78 L365.37,289.00 L365.90,290.27 L366.43,291.60 L366.96,292.99 L367.50,294.43 L368.03,295.94 L368.56,297.51 L369.09,299.13 L369.62,300.79 L370.15,302.50 L370.68,304.25 L371.22,306.03 L371.75,307.85 L372.28,309.69 L372.81,311.55 L373.34,313.43 L373.87,315.32 L374.41,317.23 L374.94,319.14 L375.47,321.04 L376.00,322.95 L376.53,324.85 L377.06,326.73 L377.59,328.60 L378.13,330.45 L378.66,332.27 L379.19,334.07 L379.72,335.83 L380.25,337.57 L380.78,339.27 L381.31,340.94 L381.85,342.57 L382.38,344.16 L382.91,345.71 L383.44,347.21 L383.97,348.67 L384.50,350.09 L385.03,351.46 L385.57,352.78 L386.10,354.07 L386.63,355.30 L387.16,356.50 L387.69,357.66 L388.22,358.77 L388.75,359.84 L389.29,360.88 L389.82,361.87 L390.35,362.82 L390.88,363.74 L391.41,364.61 L391.94,365.45 L392.47,366.26 L393.01,367.02 L393.54,367.75 L394.07,368.45 L394.60,369.11 L395.13,369.73 L395.66,370.33 L396.19,370.89 L396.73,371.41 L397.26,371.91 L397.79,372.37 L398.32,372.80 L398.85,373.20 L399.38,373.58 L399.91,373.92 L400.45,374.23 L400.98,374.52 L401.51,374.77 L402.04,375.00 L402.57,375.21 L403.10,375.39 L403.63,375.54 L404.17,375.66 L404.70,375.77 L405.23,375.85 L405.76,375.90 L406.29,375.93 L406.82,375.94 L450.70,375.95" stroke="#ff7f0e" stroke-dasharray="6.938 3.000" stroke-linecap="butt"/>
<path d="M279.81,328.71 L280.35,328.36 L280.88,328.02 L281.42,327.68 L281.95,327.35 L282.49,327.02 L283.03,326.70 L283.56,326.39 L284.10,326.08 L284.64,325.78 L285.17,325.48 L285.71,325.18 L286.24,324.89 L286.78,324.60 L287.32,324.32 L287.85,324.04 L288.39,323.76 L288.93,323.48 L289.46,323.21 L290.00,322.94 L290.53,322.67 L291.07,322.40 L291.61,322.13 L292.14,321.86 L292.68,321.60 L293.22,321.33 L293.75,321.07 L294.29,320.80 L294.82,320.53 L295.36,320.26 L295.90,320.00 L296.43,319.73 L296.97,319.45 L297.51,319.18 L298.04,318.90 L298.58,318.62 L299.11,318.34 L299.65,318.05 L300.19,317.77 L300.72,317.47 L301.26,317.18 L301.80,316.87 L302.33,316.57 L302.87,316.26 L303.41,315.94 L303.94,315.62 L304.48,315.29 L305.01,314.96 L305.55,314.62 L306.09,314.27 L306.62,313.92 L307.16,313.56 L307.70,313.19 L308.23,312.81 L308.77,312.43 L309.30,312.03 L309.84,311.63 L310.38,311.22 L310.91,310.80 L311.45,310.37 L311.99,309.93 L312.52,309.49 L313.06,309.03 L313.59,308.57 L314.13,308.09 L314.67,307.61 L315.20,307.12 L315.74,306.63 L316.28,306.12 L316.81,305.61 L317.35,305.10 L317.88,304.57 L318.42,304.04 L318.96,303.51 L319.49,302.97 L320.03,302.42 L320.57,301.87 L321.10,301.31 L321.64,300.75 L322.17,300.18 L322.71,299.61 L323.25,299.03 L323.78,298.46 L324.32,297.87 L324.86,297.29 L325.39,296.70 L325.93,296.10 L326.46,295.51 L327.00,294.91 L327.54,294.31 L328.07,293.71 L328.61,293.10 L329.15,292.50 L329.68,291.89 L330.22,291.28 L330.75,290.68 L331.29,290.07 L331.83,289.46 L332.36,288.85 L332.90,288.24 L333.44,287.63 L333.97,287.02 L334.51,286.41 L335.04,285.81 L335.58,285.20 L336.12,284.60 L336.65,284.01 L337.19,283.41 L337.73,282.83 L338.26,282.25 L338.80,281.68 L339.34,281.12 L339.87,280.58 L340.41,280.04 L340.94,279.52 L341.48,279.01 L342.02,278.52 L342.55,278.04 L343.09,277.59 L343.63,277.15 L344.16,276.73 L344.70,276.34 L345.23,275.96 L345.77,275.62 L346.31,275.29 L346.84,274.99 L347.38,274.72 L347.92,274.48 L348.45,274.27 L348.99,274.08 L349.52,273.93 L350.06,273.81 L350.60,273.73 L351.13,273.68 L351.67,273.67 L352.21,273.70 L352.74,273.76 L353.28,273.87 L353.81,274.01 L354.35,274.20 L354.89,274.43 L355.42,274.71 L355.96,275.03 L356.50,275.39 L357.03,275.80 L357.57,276.26 L358.10,276.76 L358.64,277.30 L359.18,277.90 L359.71,278.53 L360.25,279.22 L360.79,279.95 L361.32,280.73 L361.86,281.55 L362.39,282.42 L362.93,283.34 L363.47,284.30 L364.00,285.31 L364.54,286.37 L365.08,287.47 L365.61,288.63 L366.15,289.83 L366.68,291.08 L367.22,292.37 L367.76,293.72 L368.29,295.11 L368.83,296.55 L369.37,298.04 L369.90,299.58 L370.44,301.17 L370.97,302.81 L371.51,304.49 L372.05,306.23 L372.58,308.01 L373.12,309.85 L373.66,311.71 L374.19,313.58 L374.73,315.45 L375.26,317.32 L375.80,319.18 L376.34,321.04 L376.87,322.89 L377.41,324.73 L377.95,326.56 L378.48,328.37 L379.02,330.17 L379.56,331.95 L380.09,333.70 L380.63,335.43 L381.16,337.14 L381.70,338.82 L382.24,340.46 L382.77,342.08 L383.31,343.66 L383.85,345.20 L384.38,346.71 L384.92,348.17 L385.45,349.59 L385.99,350.97 L386.53,352.32 L387.06,353.62 L387.60,354.88 L388.14,356.11 L388.67,357.29 L389.21,358.43 L389.74,359.54 L390.28,360.61 L390.82,361.64 L391.35,362.63 L391.89,363.59 L392.43,364.50 L392.96,365.38 L393.50,366.23 L394.03,367.03 L394.57,367.80 L395.11,368.54 L395.64,369.23 L396.18,369.90 L396.72,370.52 L397.25,371.11 L397.79,371.67 L398.32,372.19 L398.86,372.68 L399.40,373.14 L399.93,373.55 L400.47,373.94 L401.01,374.29 L401.54,374.61 L402.08,374.90 L402.61,375.16 L403.15,375.38 L403.69,375.57 L404.22,375.73 L404.76,375.85 L405.30,375.95 L405.83,375.95 L406.37,375.95 L406.90,375.95 L407.44,375.95 L407.98,375.95 L450.70,375.95" stroke="#2ca02c" stroke-dasharray="1.875 3.094" stroke-linecap="butt"/>
<path d="M279.81,328.50 L280.31,328.04 L280.80,327.59 L281.30,327.15 L281.80,326.72 L282.30,326.29 L282.80,325.87 L283.29,325.45 L283.79,325.04 L284.29,324.63 L284.79,324.23 L285.28,323.83 L285.78,323.44 L286.28,323.05 L286.78,322.66 L287.27,322.27 L287.77,321.89 L288.27,321.50 L288.77,321.12 L289.26,320.74 L289.76,320.36 L290.26,319.97 L290.76,319.59 L291.25,319.21 L291.75,318.82 L292.25,318.43 L292.75,318.04 L293.25,317.65 L293.74,317.26 L294.24,316.86 L294.74,316.45 L295.24,316.04 L295.73,315.63 L296.23,315.21 L296.73,314.79 L297.23,314.36 L297.72,313.92 L298.22,313.48 L298.72,313.03 L299.22,312.57 L299.71,312.10 L300.21,311.62 L300.71,311.14 L301.21,310.65 L301.70,310.14 L302.20,309.63 L302.70,309.10 L303.20,308.56 L303.69,308.02 L304.19,307.46 L304.69,306.88 L305.19,306.30 L305.69,305.70 L306.18,305.09 L306.68,304.46 L307.18,303.82 L307.68,303.17 L308.17,302.50 L308.67,301.82 L309.17,301.14 L309.67,300.43 L310.16,299.72 L310.66,299.00 L311.16,298.27 L311.66,297.53 L312.15,296.78 L312.65,296.03 L313.15,295.26 L313.65,294.49 L314.14,293.72 L314.64,292.94 L315.14,292.15 L315.64,291.36 L316.14,290.56 L316.63,289.76 L317.13,288.96 L317.63,288.15 L318.13,287.35 L318.62,286.54 L319.12,285.73 L319.62,284.93 L320.12,284.12 L320.61,283.32 L321.11,282.52 L321.61,281.73 L322.11,280.94 L322.60,280.15 L323.10,279.38 L323.60,278.61 L324.10,277.85 L324.59,277.10 L325.09,276.36 L325.59,275.63 L326.09,274.92 L326.59,274.22 L327.08,273.53 L327.58,272.85 L328.08,272.20 L328.58,271.56 L329.07,270.93 L329.57,270.33 L330.07,269.74 L330.57,269.18 L331.06,268.63 L331.56,268.11 L332.06,267.61 L332.56,267.13 L333.05,266.68 L333.55,266.25 L334.05,265.85 L334.55,265.48 L335.04,265.14 L335.54,264.82 L336.04,264.53 L336.54,264.28 L337.04,264.06 L337.53,263.86 L338.03,263.71 L338.53,263.58 L339.03,263.49 L339.52,263.44 L340.02,263.42 L340.52,263.45 L341.02,263.51 L341.51,263.61 L342.01,263.75 L342.51,263.93 L343.01,264.15 L343.50,264.42 L344.00,264.73 L344.50,265.08 L345.00,265.48 L345.49,265.93 L345.99,266.42 L346.49,266.95 L346.99,267.52 L347.49,268.14 L347.98,268.80 L348.48,269.50 L348.98,270.24 L349.48,271.02 L349.97,271.83 L350.47,272.69 L350.97,273.58 L351.47,274.51 L351.96,275.47 L352.46,276.47 L352.96,277.50 L353.46,278.57 L353.95,279.67 L354.45,280.80 L354.95,281.97 L355.45,283.16 L355.94,284.38 L356.44,285.64 L356.94,286.92 L357.44,288.23 L357.94,289.57 L358.43,290.93 L358.93,292.32 L359.43,293.73 L359.93,295.17 L360.42,296.63 L360.92,298.12 L361.42,299.62 L361.92,301.15 L362.41,302.69 L362.91,304.25 L363.41,305.82 L363.91,307.41 L364.40,309.00 L364.90,310.61 L365.40,312.22 L365.90,313.83 L366.39,315.45 L366.89,317.07 L367.39,318.69 L367.89,320.30 L368.39,321.91 L368.88,323.52 L369.38,325.11 L369.88,326.70 L370.38,328.28 L370.87,329.84 L371.37,331.39 L371.87,332.92 L372.37,334.43 L372.86,335.93 L373.36,337.41 L373.86,338.87 L374.36,340.32 L374.85,341.74 L375.35,343.14 L375.85,344.53 L376.35,345.89 L376.84,347.23 L377.34,348.55 L377.84,349.84 L378.34,351.11 L378.84,352.36 L379.33,353.59 L379.83,354.78 L380.33,355.96 L380.83,357.10 L381.32,358.22 L381.82,359.31 L382.32,360.37 L382.82,361.41 L383.31,362.41 L383.81,363.39 L384.31,364.33 L384.81,365.25 L385.30,366.13 L385.80,366.98 L386.30,367.80 L386.80,368.58 L387.29,369.33 L387.79,370.05 L388.29,370.73 L388.79,371.37 L389.29,371.98 L389.78,372.55 L390.28,373.09 L390.78,373.58 L391.28,374.04 L391.77,374.46 L392.27,374.84 L392.77,375.17 L393.27,375.47 L393.76,375.73 L394.26,375.94 L394.76,375.95 L395.26,375.95 L395.75,375.95 L396.25,375.95 L396.75,375.95 L397.25,375.95 L397.74,375.95 L398.24,375.95 L398.74,375.87 L450.70,375.95" stroke="#d62728" stroke-dasharray="12.000 3.000 1.875 3.000" stroke-linecap="butt"/>
</g>
<rect x="277.50" y="239.43" width="173.20" height="136.52" fill="none" stroke="#000" stroke-width="1.000" stroke-linecap="square"/>
<path d="M277.50,375.95 v4.375 M312.14,375.95 v4.375 M346.78,375.95 v4.375 M381.42,375.95 v4.375 M416.06,375.95 v4.375 M450.70,375.95 v4.375 M277.50,375.95 h-4.375 M277.50,341.82 h-4.375 M277.50,307.69 h-4.375 M277.50,273.56 h-4.375 M277.50,239.43 h-4.375" stroke="#000" stroke-width="1.000"/>
<rect x="371.38" y="253.15" width="72.25" height="21.45" fill="#fff" stroke="#000" stroke-width="1.250"/>
<g clip-path="url(#cp12)" fill="none" stroke-width="1.875" stroke-linejoin="round">
<path d="M504.63,317.09 L505.14,316.66 L505.65,316.25 L506.16,315.86 L506.67,315.48 L507.18,315.11 L507.69,314.76 L508.20,314.42 L508.71,314.10 L509.22,313.78 L509.73,313.48 L510.24,313.19 L510.75,312.91 L511.26,312.64 L511.77,312.39 L512.28,312.14 L512.79,311.90 L513.30,311.67 L513.81,311.45 L514.32,311.24 L514.83,311.04 L515.34,310.84 L515.85,310.65 L516.36,310.47 L516.86,310.30 L517.37,310.13 L517.88,309.96 L518.39,309.80 L518.90,309.65 L519.41,309.49 L519.92,309.35 L520.43,309.20 L520.94,309.06 L521.45,308.92 L521.96,308.79 L522.47,308.65 L522.98,308.52 L523.49,308.39 L524.00,308.26 L524.51,308.13 L525.02,307.99 L525.53,307.86 L526.04,307.73 L526.55,307.59 L527.06,307.45 L527.57,307.31 L528.08,307.17 L528.59,307.03 L529.10,306.88 L529.61,306.72 L530.12,306.56 L530.63,306.40 L531.14,306.23 L531.65,306.06 L532.16,305.88 L532.67,305.70 L533.17,305.51 L533.68,305.32 L534.19,305.12 L534.70,304.91 L535.21,304.70 L535.72,304.48 L536.23,304.25 L536.74,304.02 L537.25,303.77 L537.76,303.52 L538.27,303.27 L538.78,303.00 L539.29,302.73 L539.80,302.45 L540.31,302.16 L540.82,301.86 L541.33,301.55 L541.84,301.23 L542.35,300.91 L542.86,300.58 L543.37,300.25 L543.88,299.90 L544.39,299.55 L544.90,299.20 L545.41,298.84 L545.92,298.47 L546.43,298.10 L546.94,297.73 L547.45,297.35 L547.96,296.97 L548.47,296.59 L548.98,296.20 L549.49,295.81 L549.99,295.42 L550.50,295.03 L551.01,294.63 L551.52,294.24 L552.03,293.84 L552.54,293.45 L553.05,293.05 L553.56,292.66 L554.07,292.26 L554.58,291.87 L555.09,291.48 L555.60,291.09 L556.11,290.70 L556.62,290.32 L557.13,289.94 L557.64,289.56 L558.15,289.18 L558.66,288.81 L559.17,288.45 L559.68,288.09 L560.19,287.73 L560.70,287.38 L561.21,287.04 L561.72,286.70 L562.23,286.37 L562.74,286.05 L563.25,285.74 L563.76,285.43 L564.27,285.13 L564.78,284.84 L565.29,284.56 L565.80,284.28 L566.31,284.02 L566.81,283.77 L567.32,283.52 L567.83,283.29 L568.34,283.07 L568.85,282.86 L569.36,282.66 L569.87,282.48 L570.38,282.31 L570.89,282.15 L571.40,282.01 L571.91,281.89 L572.42,281.78 L572.93,281.69 L573.44,281.63 L573.95,281.58 L574.46,281.56 L574.97,281.56 L575.48,281.58 L575.99,281.63 L576.50,281.70 L577.01,281.81 L577.52,281.94 L578.03,282.10 L578.54,282.29 L579.05,282.52 L579.56,282.78 L580.07,283.07 L580.58,283.40 L581.09,283.76 L581.60,284.16 L582.11,284.60 L582.62,285.08 L583.13,285.60 L583.63,286.16 L584.14,286.76 L584.65,287.41 L585.16,288.10 L585.67,288.84 L586.18,289.62 L586.69,290.44 L587.20,291.30 L587.71,292.20 L588.22,293.13 L588.73,294.11 L589.24,295.13 L589.75,296.18 L590.26,297.27 L590.77,298.39 L591.28,299.55 L591.79,300.74 L592.30,301.96 L592.81,303.22 L593.32,304.51 L593.83,305.83 L594.34,307.17 L594.85,308.54 L595.36,309.94 L595.87,311.35 L596.38,312.79 L596.89,314.25 L597.40,315.72 L597.91,317.21 L598.42,318.71 L598.93,320.23 L599.44,321.75 L599.95,323.29 L600.45,324.82 L600.96,326.37 L601.47,327.91 L601.98,329.46 L602.49,331.01 L603.00,332.55 L603.51,334.09 L604.02,335.62 L604.53,337.14 L605.04,338.66 L605.55,340.16 L606.06,341.65 L606.57,343.13 L607.08,344.58 L607.59,346.02 L608.10,347.44 L608.61,348.84 L609.12,350.21 L609.63,351.56 L610.14,352.88 L610.65,354.18 L611.16,355.45 L611.67,356.69 L612.18,357.91 L612.69,359.09 L613.20,360.24 L613.71,361.36 L614.22,362.45 L614.73,363.50 L615.24,364.52 L615.75,365.50 L616.26,366.44 L616.77,367.35 L617.27,368.21 L617.78,369.04 L618.29,369.82 L618.80,370.57 L619.31,371.27 L619.82,371.92 L620.33,372.53 L620.84,373.09 L621.35,373.61 L621.86,374.07 L622.37,374.49 L622.88,374.86 L623.39,375.17 L623.90,375.44 L624.41,375.65 L624.92,375.80 L625.43,375.90 L625.94,375.94 L626.45,375.93 L676.10,375.95" stroke="#1f77b4"  stroke-linecap="square"/>
<path d="M504.63,317.09 L505.15,316.73 L505.67,316.37 L506.19,316.04 L506.71,315.71 L507.23,315.40 L507.75,315.10 L508.27,314.81 L508.79,314.53 L509.31,314.27 L509.83,314.01 L510.34,313.77 L510.86,313.53 L511.38,313.30 L511.90,313.09 L512.42,312.88 L512.94,312.68 L513.46,312.48 L513.98,312.30 L514.50,312.12 L515.02,311.95 L515.54,311.78 L516.06,311.62 L516.58,311.47 L517.10,311.32 L517.62,311.17 L518.14,311.03 L518.65,310.90 L519.17,310.76 L519.69,310.63 L520.21,310.51 L520.73,310.38 L521.25,310.26 L521.77,310.14 L522.29,310.01 L522.81,309.89 L523.33,309.77 L523.85,309.65 L524.37,309.53 L524.89,309.41 L525.41,309.29 L525.93,309.16 L526.45,309.04 L526.96,308.91 L527.48,308.77 L528.00,308.64 L528.52,308.50 L529.04,308.36 L529.56,308.22 L530.08,308.07 L530.60,307.92 L531.12,307.77 L531.64,307.61 L532.16,307.45 L532.68,307.28 L533.20,307.12 L533.72,306.94 L534.24,306.77 L534.75,306.58 L535.27,306.40 L535.79,306.21 L536.31,306.01 L536.83,305.81 L537.35,305.60 L537.87,305.39 L538.39,305.18 L538.91,304.96 L539.43,304.73 L539.95,304.50 L540.47,304.26 L540.99,304.01 L541.51,303.76 L542.03,303.51 L542.55,303.24 L543.06,302.97 L543.58,302.70 L544.10,302.41 L544.62,302.12 L545.14,301.83 L545.66,301.52 L546.18,301.21 L546.70,300.90 L547.22,300.58 L547.74,300.25 L548.26,299.92 L548.78,299.58 L549.30,299.24 L549.82,298.89 L550.34,298.55 L550.85,298.19 L551.37,297.84 L551.89,297.48 L552.41,297.12 L552.93,296.76 L553.45,296.40 L553.97,296.03 L554.49,295.67 L555.01,295.30 L555.53,294.94 L556.05,294.57 L556.57,294.21 L557.09,293.84 L557.61,293.48 L558.13,293.12 L558.65,292.76 L559.16,292.40 L559.68,292.05 L560.20,291.69 L560.72,291.35 L561.24,291.00 L561.76,290.66 L562.28,290.32 L562.80,289.99 L563.32,289.66 L563.84,289.34 L564.36,289.02 L564.88,288.71 L565.40,288.41 L565.92,288.11 L566.44,287.82 L566.96,287.54 L567.47,287.26 L567.99,287.00 L568.51,286.74 L569.03,286.49 L569.55,286.25 L570.07,286.01 L570.59,285.79 L571.11,285.58 L571.63,285.38 L572.15,285.19 L572.67,285.01 L573.19,284.84 L573.71,284.69 L574.23,284.55 L574.75,284.42 L575.26,284.31 L575.78,284.22 L576.30,284.15 L576.82,284.10 L577.34,284.08 L577.86,284.08 L578.38,284.10 L578.90,284.15 L579.42,284.24 L579.94,284.35 L580.46,284.49 L580.98,284.67 L581.50,284.88 L582.02,285.12 L582.54,285.41 L583.06,285.73 L583.57,286.10 L584.09,286.50 L584.61,286.95 L585.13,287.45 L585.65,287.99 L586.17,288.58 L586.69,289.22 L587.21,289.91 L587.73,290.65 L588.25,291.44 L588.77,292.29 L589.29,293.18 L589.81,294.12 L590.33,295.10 L590.85,296.13 L591.36,297.20 L591.88,298.31 L592.40,299.46 L592.92,300.64 L593.44,301.86 L593.96,303.11 L594.48,304.39 L595.00,305.69 L595.52,307.03 L596.04,308.39 L596.56,309.77 L597.08,311.18 L597.60,312.60 L598.12,314.04 L598.64,315.50 L599.16,316.97 L599.67,318.45 L600.19,319.95 L600.71,321.45 L601.23,322.96 L601.75,324.47 L602.27,325.99 L602.79,327.51 L603.31,329.03 L603.83,330.55 L604.35,332.06 L604.87,333.56 L605.39,335.06 L605.91,336.55 L606.43,338.03 L606.95,339.50 L607.46,340.95 L607.98,342.39 L608.50,343.82 L609.02,345.22 L609.54,346.61 L610.06,347.99 L610.58,349.34 L611.10,350.67 L611.62,351.97 L612.14,353.26 L612.66,354.52 L613.18,355.75 L613.70,356.95 L614.22,358.12 L614.74,359.27 L615.26,360.38 L615.77,361.46 L616.29,362.51 L616.81,363.52 L617.33,364.50 L617.85,365.44 L618.37,366.34 L618.89,367.21 L619.41,368.04 L619.93,368.83 L620.45,369.59 L620.97,370.30 L621.49,370.98 L622.01,371.62 L622.53,372.21 L623.05,372.76 L623.57,373.27 L624.08,373.74 L624.60,374.17 L625.12,374.55 L625.64,374.88 L626.16,375.17 L626.68,375.42 L627.20,375.62 L627.72,375.77 L628.24,375.87 L628.76,375.93 L676.10,375.95" stroke="#ff7f0e" stroke-dasharray="6.938 3.000" stroke-linecap="butt"/>
<path d="M504.63,317.09 L505.16,316.72 L505.68,316.37 L506.20,316.04 L506.73,315.72 L507.25,315.43 L507.78,315.15 L508.30,314.89 L508.83,314.64 L509.35,314.41 L509.87,314.19 L510.40,313.99 L510.92,313.79 L511.45,313.60 L511.97,313.43 L512.49,313.26 L513.02,313.10 L513.54,312.94 L514.07,312.80 L514.59,312.65 L515.12,312.51 L515.64,312.37 L516.16,312.24 L516.69,312.10 L517.21,311.97 L517.74,311.83 L518.26,311.70 L518.79,311.55 L519.31,311.41 L519.83,311.26 L520.36,311.11 L520.88,310.95 L521.41,310.79 L521.93,310.62 L522.45,310.45 L522.98,310.28 L523.50,310.11 L524.03,309.94 L524.55,309.76 L525.08,309.58 L525.60,309.41 L526.12,309.23 L526.65,309.05 L527.17,308.87 L527.70,308.70 L528.22,308.52 L528.74,308.35 L529.27,308.18 L529.79,308.01 L530.32,307.84 L530.84,307.67 L531.37,307.51 L531.89,307.34 L532.41,307.17 L532.94,307.00 L533.46,306.83 L533.99,306.66 L534.51,306.49 L535.04,306.32 L535.56,306.14 L536.08,305.96 L536.61,305.78 L537.13,305.59 L537.66,305.40 L538.18,305.20 L538.70,305.00 L539.23,304.79 L539.75,304.58 L540.28,304.37 L540.80,304.14 L541.33,303.91 L541.85,303.68 L542.37,303.43 L542.90,303.18 L543.42,302.92 L543.95,302.65 L544.47,302.38 L544.99,302.10 L545.52,301.81 L546.04,301.51 L546.57,301.21 L547.09,300.90 L547.62,300.59 L548.14,300.27 L548.66,299.95 L549.19,299.62 L549.71,299.29 L550.24,298.95 L550.76,298.61 L551.28,298.27 L551.81,297.92 L552.33,297.57 L552.86,297.22 L553.38,296.87 L553.91,296.52 L554.43,296.16 L554.95,295.80 L555.48,295.44 L556.00,295.09 L556.53,294.73 L557.05,294.37 L557.58,294.01 L558.10,293.65 L558.62,293.30 L559.15,292.94 L559.67,292.59 L560.20,292.24 L560.72,291.89 L561.24,291.54 L561.77,291.20 L562.29,290.86 L562.82,290.53 L563.34,290.20 L563.87,289.87 L564.39,289.55 L564.91,289.23 L565.44,288.92 L565.96,288.61 L566.49,288.31 L567.01,288.01 L567.53,287.73 L568.06,287.44 L568.58,287.17 L569.11,286.90 L569.63,286.64 L570.16,286.39 L570.68,286.15 L571.20,285.92 L571.73,285.69 L572.25,285.48 L572.78,285.27 L573.30,285.08 L573.83,284.90 L574.35,284.74 L574.87,284.59 L575.40,284.46 L575.92,284.35 L576.45,284.26 L576.97,284.20 L577.49,284.15 L578.02,284.14 L578.54,284.15 L579.07,284.19 L579.59,284.25 L580.12,284.35 L580.64,284.49 L581.16,284.65 L581.69,284.86 L582.21,285.10 L582.74,285.38 L583.26,285.70 L583.78,286.06 L584.31,286.47 L584.83,286.92 L585.36,287.41 L585.88,287.96 L586.41,288.55 L586.93,289.19 L587.45,289.88 L587.98,290.61 L588.50,291.39 L589.03,292.21 L589.55,293.07 L590.07,293.97 L590.60,294.91 L591.12,295.88 L591.65,296.90 L592.17,297.95 L592.70,299.03 L593.22,300.14 L593.74,301.29 L594.27,302.47 L594.79,303.68 L595.32,304.91 L595.84,306.18 L596.37,307.47 L596.89,308.78 L597.41,310.12 L597.94,311.47 L598.46,312.85 L598.99,314.25 L599.51,315.67 L600.03,317.11 L600.56,318.56 L601.08,320.03 L601.61,321.51 L602.13,323.00 L602.66,324.50 L603.18,326.00 L603.70,327.51 L604.23,329.03 L604.75,330.54 L605.28,332.06 L605.80,333.56 L606.32,335.07 L606.85,336.56 L607.37,338.05 L607.90,339.53 L608.42,340.99 L608.95,342.43 L609.47,343.86 L609.99,345.27 L610.52,346.65 L611.04,348.02 L611.57,349.35 L612.09,350.67 L612.62,351.95 L613.14,353.21 L613.66,354.45 L614.19,355.65 L614.71,356.83 L615.24,357.98 L615.76,359.09 L616.28,360.18 L616.81,361.24 L617.33,362.27 L617.86,363.26 L618.38,364.22 L618.91,365.15 L619.43,366.05 L619.95,366.91 L620.48,367.73 L621.00,368.52 L621.53,369.28 L622.05,369.99 L622.57,370.67 L623.10,371.31 L623.62,371.92 L624.15,372.48 L624.67,373.01 L625.20,373.49 L625.72,373.93 L626.24,374.33 L626.77,374.69 L627.29,375.01 L627.82,375.28 L628.34,375.51 L628.86,375.69 L629.39,375.83 L629.91,375.92 L676.10,375.95" stroke="#2ca02c" stroke-dasharray="1.875 3.094" stroke-linecap="butt"/>
<path d="M506.10,318.63 L506.59,318.26 L507.08,317.89 L507.57,317.53 L508.05,317.17 L508.54,316.82 L509.03,316.48 L509.52,316.14 L510.01,315.80 L510.50,315.48 L510.99,315.15 L511.48,314.83 L511.97,314.51 L512.46,314.20 L512.95,313.89 L513.43,313.59 L513.92,313.29 L514.41,312.99 L514.90,312.70 L515.39,312.41 L515.88,312.12 L516.37,311.83 L516.86,311.55 L517.35,311.27 L517.84,310.99 L518.33,310.71 L518.81,310.44 L519.30,310.16 L519.79,309.89 L520.28,309.62 L520.77,309.35 L521.26,309.08 L521.75,308.81 L522.24,308.54 L522.73,308.27 L523.22,308.01 L523.70,307.74 L524.19,307.47 L524.68,307.20 L525.17,306.93 L525.66,306.66 L526.15,306.39 L526.64,306.11 L527.13,305.84 L527.62,305.56 L528.11,305.29 L528.60,305.01 L529.08,304.72 L529.57,304.44 L530.06,304.15 L530.55,303.86 L531.04,303.57 L531.53,303.28 L532.02,302.98 L532.51,302.67 L533.00,302.37 L533.49,302.06 L533.98,301.75 L534.46,301.43 L534.95,301.10 L535.44,300.78 L535.93,300.45 L536.42,300.11 L536.91,299.77 L537.40,299.42 L537.89,299.07 L538.38,298.71 L538.87,298.35 L539.35,297.98 L539.84,297.60 L540.33,297.22 L540.82,296.83 L541.31,296.43 L541.80,296.03 L542.29,295.62 L542.78,295.20 L543.27,294.77 L543.76,294.34 L544.25,293.90 L544.73,293.45 L545.22,292.99 L545.71,292.53 L546.20,292.05 L546.69,291.57 L547.18,291.08 L547.67,290.58 L548.16,290.07 L548.65,289.56 L549.14,289.04 L549.63,288.51 L550.11,287.98 L550.60,287.45 L551.09,286.92 L551.58,286.38 L552.07,285.85 L552.56,285.31 L553.05,284.78 L553.54,284.25 L554.03,283.73 L554.52,283.21 L555.01,282.69 L555.49,282.19 L555.98,281.69 L556.47,281.19 L556.96,280.71 L557.45,280.24 L557.94,279.78 L558.43,279.33 L558.92,278.90 L559.41,278.48 L559.90,278.07 L560.38,277.69 L560.87,277.31 L561.36,276.96 L561.85,276.63 L562.34,276.31 L562.83,276.02 L563.32,275.75 L563.81,275.50 L564.30,275.28 L564.79,275.08 L565.28,274.90 L565.76,274.75 L566.25,274.63 L566.74,274.54 L567.23,274.48 L567.72,274.45 L568.21,274.45 L568.70,274.48 L569.19,274.55 L569.68,274.65 L570.17,274.78 L570.66,274.95 L571.14,275.16 L571.63,275.41 L572.12,275.69 L572.61,276.02 L573.10,276.38 L573.59,276.77 L574.08,277.21 L574.57,277.68 L575.06,278.18 L575.55,278.72 L576.03,279.29 L576.52,279.90 L577.01,280.54 L577.50,281.21 L577.99,281.91 L578.48,282.65 L578.97,283.41 L579.46,284.21 L579.95,285.03 L580.44,285.88 L580.93,286.76 L581.41,287.67 L581.90,288.61 L582.39,289.57 L582.88,290.56 L583.37,291.57 L583.86,292.61 L584.35,293.67 L584.84,294.75 L585.33,295.86 L585.82,296.99 L586.31,298.14 L586.79,299.32 L587.28,300.51 L587.77,301.73 L588.26,302.96 L588.75,304.21 L589.24,305.48 L589.73,306.77 L590.22,308.08 L590.71,309.40 L591.20,310.74 L591.69,312.09 L592.17,313.46 L592.66,314.84 L593.15,316.24 L593.64,317.65 L594.13,319.07 L594.62,320.51 L595.11,321.95 L595.60,323.40 L596.09,324.85 L596.58,326.32 L597.06,327.78 L597.55,329.24 L598.04,330.71 L598.53,332.17 L599.02,333.62 L599.51,335.07 L600.00,336.51 L600.49,337.95 L600.98,339.37 L601.47,340.77 L601.96,342.17 L602.44,343.54 L602.93,344.90 L603.42,346.24 L603.91,347.56 L604.40,348.85 L604.89,350.12 L605.38,351.37 L605.87,352.59 L606.36,353.78 L606.85,354.95 L607.34,356.10 L607.82,357.21 L608.31,358.30 L608.80,359.36 L609.29,360.40 L609.78,361.40 L610.27,362.38 L610.76,363.32 L611.25,364.24 L611.74,365.12 L612.23,365.98 L612.71,366.80 L613.20,367.59 L613.69,368.35 L614.18,369.07 L614.67,369.76 L615.16,370.42 L615.65,371.05 L616.14,371.63 L616.63,372.19 L617.12,372.70 L617.61,373.18 L618.09,373.63 L618.58,374.03 L619.07,374.40 L619.56,374.73 L620.05,375.02 L620.54,375.28 L621.03,375.49 L621.52,375.66 L622.01,375.79 L622.50,375.88 L622.99,375.93 L676.10,375.95" stroke="#d62728" stroke-dasharray="12.000 3.000 1.875 3.000" stroke-linecap="butt"/>
</g>
<rect x="502.90" y="239.43" width="173.20" height="136.52" fill="none" stroke="#000" stroke-width="1.000" stroke-linecap="square"/>
<path d="M502.90,375.95 v4.375 M537.54,375.95 v4.375 M572.18,375.95 v4.375 M606.82,375.95 v4.375 M641.46,375.95 v4.375 M676.10,375.95 v4.375 M502.90,375.95 h-4.375 M502.90,341.82 h-4.375 M502.90,307.69 h-4.375 M502.90,273.56 h-4.375 M502.90,239.43 h-4.375" stroke="#000" stroke-width="1.000"/>
<rect x="592.80" y="253.15" width="80.20" height="21.45" fill="#fff" stroke="#000" stroke-width="1.250"/>
<rect x="148.75" y="196.80" width="394.20" height="21.80" rx="2.5" fill="#fff" stroke="#d6d6d6" stroke-width="1.250"/>
<path d="M153.50,206.80 h25" stroke="#1f77b4" stroke-width="1.875"  stroke-linecap="square" fill="none"/>
<path d="M260.10,206.80 h25" stroke="#ff7f0e" stroke-width="1.875" stroke-dasharray="6.938 3.000" stroke-linecap="butt" fill="none"/>
<path d="M366.70,206.80 h25" stroke="#2ca02c" stroke-width="1.875" stroke-dasharray="1.875 3.094" stroke-linecap="butt" fill="none"/>
<path d="M453.20,206.80 h25" stroke="#d62728" stroke-width="1.875" stroke-dasharray="12.000 3.000 1.875 3.000" stroke-linecap="butt" fill="none"/>
<rect x="135.70" y="425.70" width="420.00" height="21.80" rx="2.5" fill="#fff" stroke="#d6d6d6" stroke-width="1.250"/>
<path d="M140.90,435.60 h25" stroke="#1f77b4" stroke-width="1.875"  stroke-linecap="square" fill="none"/>
<path d="M217.90,435.60 h25" stroke="#ff7f0e" stroke-width="1.875" stroke-dasharray="6.938 3.000" stroke-linecap="butt" fill="none"/>
<path d="M307.60,435.60 h25" stroke="#2ca02c" stroke-width="1.875" stroke-dasharray="1.875 3.094" stroke-linecap="butt" fill="none"/>
<path d="M433.30,435.60 h25" stroke="#d62728" stroke-width="1.875" stroke-dasharray="12.000 3.000 1.875 3.000" stroke-linecap="butt" fill="none"/>
<text x="42.70" y="165.31" font-size="13.2" textLength="19.27" lengthAdjust="spacingAndGlyphs">0.0</text>
<text x="77.34" y="165.31" font-size="13.2" textLength="19.21" lengthAdjust="spacingAndGlyphs">0.3</text>
<text x="111.97" y="165.31" font-size="13.2" textLength="19.47" lengthAdjust="spacingAndGlyphs">0.6</text>
<text x="146.62" y="165.31" font-size="13.2" textLength="19.34" lengthAdjust="spacingAndGlyphs">0.9</text>
<text x="181.31" y="165.31" font-size="13.2" textLength="19.03" lengthAdjust="spacingAndGlyphs">1.2</text>
<text x="215.94" y="165.31" font-size="13.2" textLength="19.10" lengthAdjust="spacingAndGlyphs">1.5</text>
<text x="23.84" y="152.10" font-size="13.2" textLength="19.27" lengthAdjust="spacingAndGlyphs">0.0</text>
<text x="23.85" y="117.94" font-size="13.2" textLength="19.14" lengthAdjust="spacingAndGlyphs">0.5</text>
<text x="23.88" y="83.78" font-size="13.2" textLength="19.23" lengthAdjust="spacingAndGlyphs">1.0</text>
<text x="23.89" y="49.62" font-size="13.2" textLength="19.10" lengthAdjust="spacingAndGlyphs">1.5</text>
<text x="23.84" y="15.46" font-size="13.2" textLength="19.27" lengthAdjust="spacingAndGlyphs">2.0</text>
<text x="120.38" y="182.38" font-size="13.2" font-style="italic" textLength="16.95" lengthAdjust="spacingAndGlyphs">r/R</text>
<text x="138.25" y="184.38" font-size="9.24" font-style="italic" textLength="19.90" lengthAdjust="spacingAndGlyphs">csda</text>
<text x="267.85" y="165.31" font-size="13.2" textLength="19.27" lengthAdjust="spacingAndGlyphs">0.0</text>
<text x="302.49" y="165.31" font-size="13.2" textLength="19.21" lengthAdjust="spacingAndGlyphs">0.3</text>
<text x="337.12" y="165.31" font-size="13.2" textLength="19.47" lengthAdjust="spacingAndGlyphs">0.6</text>
<text x="371.77" y="165.31" font-size="13.2" textLength="19.34" lengthAdjust="spacingAndGlyphs">0.9</text>
<text x="406.46" y="165.31" font-size="13.2" textLength="19.03" lengthAdjust="spacingAndGlyphs">1.2</text>
<text x="441.09" y="165.31" font-size="13.2" textLength="19.10" lengthAdjust="spacingAndGlyphs">1.5</text>
<text x="248.99" y="152.10" font-size="13.2" textLength="19.27" lengthAdjust="spacingAndGlyphs">0.0</text>
<text x="249.00" y="117.94" font-size="13.2" textLength="19.14" lengthAdjust="spacingAndGlyphs">0.5</text>
<text x="249.03" y="83.78" font-size="13.2" textLength="19.23" lengthAdjust="spacingAndGlyphs">1.0</text>
<text x="249.04" y="49.62" font-size="13.2" textLength="19.10" lengthAdjust="spacingAndGlyphs">1.5</text>
<text x="248.99" y="15.46" font-size="13.2" textLength="19.27" lengthAdjust="spacingAndGlyphs">2.0</text>
<text x="345.53" y="182.38" font-size="13.2" font-style="italic" textLength="16.95" lengthAdjust="spacingAndGlyphs">r/R</text>
<text x="363.40" y="184.38" font-size="9.24" font-style="italic" textLength="19.90" lengthAdjust="spacingAndGlyphs">csda</text>
<text x="493.25" y="165.31" font-size="13.2" textLength="19.27" lengthAdjust="spacingAndGlyphs">0.0</text>
<text x="527.89" y="165.31" font-size="13.2" textLength="19.21" lengthAdjust="spacingAndGlyphs">0.3</text>
<text x="562.52" y="165.31" font-size="13.2" textLength="19.47" lengthAdjust="spacingAndGlyphs">0.6</text>
<text x="597.17" y="165.31" font-size="13.2" textLength="19.34" lengthAdjust="spacingAndGlyphs">0.9</text>
<text x="631.86" y="165.31" font-size="13.2" textLength="19.03" lengthAdjust="spacingAndGlyphs">1.2</text>
<text x="666.49" y="165.31" font-size="13.2" textLength="19.10" lengthAdjust="spacingAndGlyphs">1.5</text>
<text x="474.39" y="152.10" font-size="13.2" textLength="19.27" lengthAdjust="spacingAndGlyphs">0.0</text>
<text x="474.40" y="117.94" font-size="13.2" textLength="19.14" lengthAdjust="spacingAndGlyphs">0.5</text>
<text x="474.43" y="83.78" font-size="13.2" textLength="19.23" lengthAdjust="spacingAndGlyphs">1.0</text>
<text x="474.44" y="49.62" font-size="13.2" textLength="19.10" lengthAdjust="spacingAndGlyphs">1.5</text>
<text x="474.39" y="15.46" font-size="13.2" textLength="19.27" lengthAdjust="spacingAndGlyphs">2.0</text>
<text x="570.93" y="182.38" font-size="13.2" font-style="italic" textLength="16.95" lengthAdjust="spacingAndGlyphs">r/R</text>
<text x="588.80" y="184.38" font-size="9.24" font-style="italic" textLength="19.90" lengthAdjust="spacingAndGlyphs">csda</text>
<text transform="translate(16.56,94.76) rotate(-90)" font-size="13.2" textLength="31.82" lengthAdjust="spacingAndGlyphs">sDPK</text>
<text x="42.70" y="394.16" font-size="13.2" textLength="19.27" lengthAdjust="spacingAndGlyphs">0.0</text>
<text x="77.34" y="394.16" font-size="13.2" textLength="19.21" lengthAdjust="spacingAndGlyphs">0.3</text>
<text x="111.97" y="394.16" font-size="13.2" textLength="19.47" lengthAdjust="spacingAndGlyphs">0.6</text>
<text x="146.62" y="394.16" font-size="13.2" textLength="19.34" lengthAdjust="spacingAndGlyphs">0.9</text>
<text x="181.31" y="394.16" font-size="13.2" textLength="19.03" lengthAdjust="spacingAndGlyphs">1.2</text>
<text x="215.94" y="394.16" font-size="13.2" textLength="19.10" lengthAdjust="spacingAndGlyphs">1.5</text>
<text x="23.84" y="380.95" font-size="13.2" textLength="19.27" lengthAdjust="spacingAndGlyphs">0.0</text>
<text x="23.85" y="346.82" font-size="13.2" textLength="19.14" lengthAdjust="spacingAndGlyphs">0.5</text>
<text x="23.88" y="312.69" font-size="13.2" textLength="19.23" lengthAdjust="spacingAndGlyphs">1.0</text>
<text x="23.89" y="278.56" font-size="13.2" textLength="19.10" lengthAdjust="spacingAndGlyphs">1.5</text>
<text x="23.84" y="244.43" font-size="13.2" textLength="19.27" lengthAdjust="spacingAndGlyphs">2.0</text>
<text x="120.38" y="411.23" font-size="13.2" font-style="italic" textLength="16.95" lengthAdjust="spacingAndGlyphs">r/R</text>
<text x="138.25" y="413.23" font-size="9.24" font-style="italic" textLength="19.90" lengthAdjust="spacingAndGlyphs">csda</text>
<text x="267.85" y="394.16" font-size="13.2" textLength="19.27" lengthAdjust="spacingAndGlyphs">0.0</text>
<text x="302.49" y="394.16" font-size="13.2" textLength="19.21" lengthAdjust="spacingAndGlyphs">0.3</text>
<text x="337.12" y="394.16" font-size="13.2" textLength="19.47" lengthAdjust="spacingAndGlyphs">0.6</text>
<text x="371.77" y="394.16" font-size="13.2" textLength="19.34" lengthAdjust="spacingAndGlyphs">0.9</text>
<text x="406.46" y="394.16" font-size="13.2" textLength="19.03" lengthAdjust="spacingAndGlyphs">1.2</text>
<text x="441.09" y="394.16" font-size="13.2" textLength="19.10" lengthAdjust="spacingAndGlyphs">1.5</text>
<text x="248.99" y="380.95" font-size="13.2" textLength="19.27" lengthAdjust="spacingAndGlyphs">0.0</text>
<text x="249.00" y="346.82" font-size="13.2" textLength="19.14" lengthAdjust="spacingAndGlyphs">0.5</text>
<text x="249.03" y="312.69" font-size="13.2" textLength="19.23" lengthAdjust="spacingAndGlyphs">1.0</text>
<text x="249.04" y="278.56" font-size="13.2" textLength="19.10" lengthAdjust="spacingAndGlyphs">1.5</text>
<text x="248.99" y="244.43" font-size="13.2" textLength="19.27" lengthAdjust="spacingAndGlyphs">2.0</text>
<text x="345.53" y="411.23" font-size="13.2" font-style="italic" textLength="16.95" lengthAdjust="spacingAndGlyphs">r/R</text>
<text x="363.40" y="413.23" font-size="9.24" font-style="italic" textLength="19.90" lengthAdjust="spacingAndGlyphs">csda</text>
<text x="493.25" y="394.16" font-size="13.2" textLength="19.27" lengthAdjust="spacingAndGlyphs">0.0</text>
<text x="527.89" y="394.16" font-size="13.2" textLength="19.21" lengthAdjust="spacingAndGlyphs">0.3</text>
<text x="562.52" y="394.16" font-size="13.2" textLength="19.47" lengthAdjust="spacingAndGlyphs">0.6</text>
<text x="597.17" y="394.16" font-size="13.2" textLength="19.34" lengthAdjust="spacingAndGlyphs">0.9</text>
<text x="631.86" y="394.16" font-size="13.2" textLength="19.03" lengthAdjust="spacingAndGlyphs">1.2</text>
<text x="666.49" y="394.16" font-size="13.2" textLength="19.10" lengthAdjust="spacingAndGlyphs">1.5</text>
<text x="474.39" y="380.95" font-size="13.2" textLength="19.27" lengthAdjust="spacingAndGlyphs">0.0</text>
<text x="474.40" y="346.82" font-size="13.2" textLength="19.14" lengthAdjust="spacingAndGlyphs">0.5</text>
<text x="474.43" y="312.69" font-size="13.2" textLength="19.23" lengthAdjust="spacingAndGlyphs">1.0</text>
<text x="474.44" y="278.56" font-size="13.2" textLength="19.10" lengthAdjust="spacingAndGlyphs">1.5</text>
<text x="474.39" y="244.43" font-size="13.2" textLength="19.27" lengthAdjust="spacingAndGlyphs">2.0</text>
<text x="570.93" y="411.23" font-size="13.2" font-style="italic" textLength="16.95" lengthAdjust="spacingAndGlyphs">r/R</text>
<text x="588.80" y="413.23" font-size="9.24" font-style="italic" textLength="19.90" lengthAdjust="spacingAndGlyphs">csda</text>
<text transform="translate(16.56,323.67) rotate(-90)" font-size="13.2" textLength="31.82" lengthAdjust="spacingAndGlyphs">sDPK</text>
<text x="155.58" y="39.05" font-size="13.2" textLength="54.45" lengthAdjust="spacingAndGlyphs">40.0 keV</text>
<text x="376.52" y="39.05" font-size="13.2" textLength="62.55" lengthAdjust="spacingAndGlyphs">600.0 keV</text>
<text x="597.92" y="39.05" font-size="13.2" textLength="70.52" lengthAdjust="spacingAndGlyphs">2500.0 keV</text>
<text x="155.58" y="267.90" font-size="13.2" textLength="54.45" lengthAdjust="spacingAndGlyphs">40.0 keV</text>
<text x="376.52" y="267.90" font-size="13.2" textLength="62.55" lengthAdjust="spacingAndGlyphs">600.0 keV</text>
<text x="597.92" y="267.90" font-size="13.2" textLength="70.52" lengthAdjust="spacingAndGlyphs">2500.0 keV</text>
<text x="0.87" y="10.90" font-size="15.8" textLength="9.22" lengthAdjust="spacingAndGlyphs">A</text>
<text x="-0.11" y="240.80" font-size="15.8" textLength="10.25" lengthAdjust="spacingAndGlyphs">B</text>
<text x="188.35" y="210.81" font-size="13.2" textLength="46.49" lengthAdjust="spacingAndGlyphs">HU-950</text>
<text x="294.85" y="210.81" font-size="13.2" textLength="46.48" lengthAdjust="spacingAndGlyphs">HU-120</text>
<text x="401.90" y="210.81" font-size="13.2" textLength="25.85" lengthAdjust="spacingAndGlyphs">HU7</text>
<text x="487.94" y="210.81" font-size="13.2" textLength="49.81" lengthAdjust="spacingAndGlyphs">HU1500</text>
<text x="175.40" y="440.00" font-size="13.2" textLength="17.14" lengthAdjust="spacingAndGlyphs">Air</text>
<text x="252.35" y="440.00" font-size="13.2" textLength="30.01" lengthAdjust="spacingAndGlyphs">Lung</text>
<text x="342.94" y="440.00" font-size="13.2" textLength="65.28" lengthAdjust="spacingAndGlyphs">Soft tissue</text>
<text x="468.33" y="440.00" font-size="13.2" textLength="82.90" lengthAdjust="spacingAndGlyphs">Cortical bone</text>
</svg>
</body></html>
